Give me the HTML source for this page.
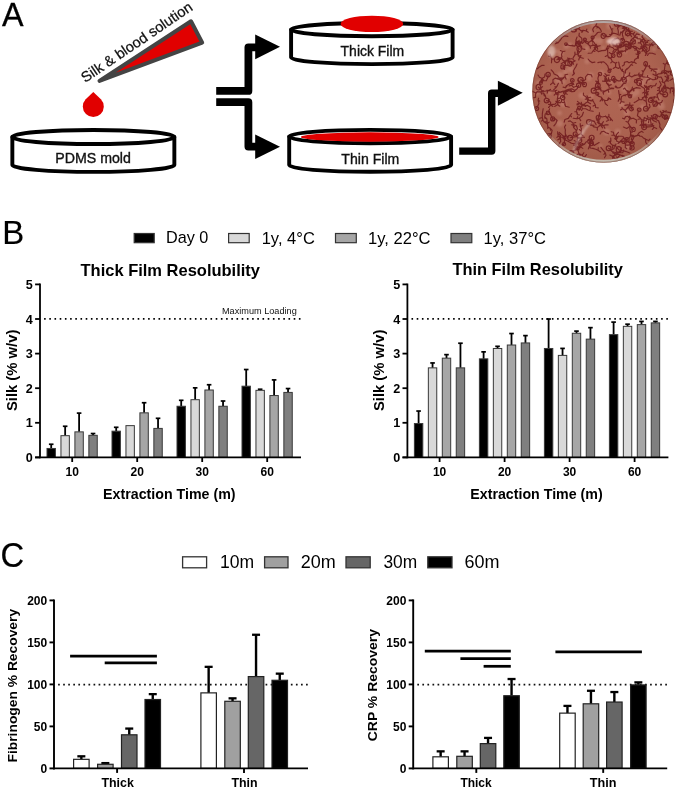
<!DOCTYPE html>
<html><head><meta charset="utf-8"><style>
html,body{margin:0;padding:0;background:#fff;}
svg{display:block;will-change:transform;}
text{font-family:"Liberation Sans", sans-serif;}
</style></head><body>
<svg width="677" height="789" viewBox="0 0 677 789" font-family="Liberation Sans, sans-serif">
<rect width="677" height="789" fill="#fff"/>
<text x="2.00" y="25.85" font-size="33.5" font-weight="normal" fill="#000" stroke="#000" stroke-width="0.3" textLength="21.55" lengthAdjust="spacingAndGlyphs">A</text>
<text x="2.30" y="244.05" font-size="34" font-weight="normal" fill="#000" stroke="#000" stroke-width="0.2" textLength="21.93" lengthAdjust="spacingAndGlyphs">B</text>
<text x="0.55" y="567.00" font-size="35.5" font-weight="normal" fill="#000" stroke="#000" stroke-width="0.2" textLength="23.66" lengthAdjust="spacingAndGlyphs">C</text>
<text x="85.3" y="83" font-size="14.6" fill="#111" stroke="#111" stroke-width="0.25" textLength="131" lengthAdjust="spacingAndGlyphs" transform="rotate(-34.2 85.3 83)">Silk &amp; blood solution</text>
<path d="M99.5,80.9 L191,21.3 L202.2,42.6 Z" fill="#e10000" stroke="#444" stroke-width="4" stroke-linejoin="round"/>
<path d="M93.3,92 L100.9,99.3 A10.5,10.5 0 1 1 85.7,99.3 Z" fill="#e10000"/>
<path d="M12.349999999999994,137.0 L12.349999999999994,164.9 A81.0,7.0 0 0 0 174.35,164.9 L174.35,137.0 Z" fill="#fff" stroke="#000" stroke-width="3.9" stroke-linejoin="round"/>
<ellipse cx="93.35" cy="137.0" rx="81.0" ry="7.0" fill="#fff" stroke="#000" stroke-width="3.9"/>
<text x="55.19" y="163.05" font-size="14" font-weight="normal" fill="#111" stroke="#111" stroke-width="0.35" textLength="75.71" lengthAdjust="spacingAndGlyphs">PDMS mold</text>
<path d="M291.1,29.6 L291.1,57.5 A80.75,6.6 0 0 0 452.6,57.5 L452.6,29.6 Z" fill="#fff" stroke="#000" stroke-width="3.9" stroke-linejoin="round"/>
<ellipse cx="371.85" cy="29.6" rx="80.75" ry="6.6" fill="#fff" stroke="#000" stroke-width="3.9"/>
<ellipse cx="371.9" cy="23.9" rx="31.3" ry="8.2" fill="#e10000"/>
<text x="340.60" y="55.55" font-size="14" font-weight="normal" fill="#111" stroke="#111" stroke-width="0.35" textLength="63.58" lengthAdjust="spacingAndGlyphs">Thick Film</text>
<path d="M289.2,136.6 L289.2,165.1 A80.95,6.7 0 0 0 451.09999999999997,165.1 L451.09999999999997,136.6 Z" fill="#fff" stroke="#000" stroke-width="3.9" stroke-linejoin="round"/>
<ellipse cx="370.15" cy="136.6" rx="80.95" ry="6.7" fill="#fff" stroke="#000" stroke-width="3.9"/>
<ellipse cx="369.7" cy="137.0" rx="68.9" ry="4.65" fill="#e10000"/>
<text x="341.30" y="163.75" font-size="14" font-weight="normal" fill="#111" stroke="#111" stroke-width="0.35" textLength="57.97" lengthAdjust="spacingAndGlyphs">Thin Film</text>
<path d="M216.2,90.9 L248.4,90.9 L248.4,47.3 L258,47.3" fill="none" stroke="#000" stroke-width="7.8" stroke-linejoin="round"/>
<path d="M216.2,102.2 L248.4,102.2 L248.4,146.6 L258,146.6" fill="none" stroke="#000" stroke-width="7.8" stroke-linejoin="round"/>
<path d="M255.2,34.4 L280,46.8 L255.2,59.3 Z" fill="#000"/>
<path d="M255.2,134.6 L280,146.7 L255.2,159 Z" fill="#000"/>
<path d="M459.2,151.1 L491.7,151.1 L491.7,93.2 L500,93.2" fill="none" stroke="#000" stroke-width="7.4" stroke-linejoin="round"/>
<path d="M497.9,80.7 L522.7,92.8 L497.9,105.8 Z" fill="#000"/>
<defs><radialGradient id="pg" cx="48%" cy="45%" r="55%"><stop offset="0" stop-color="#b06654"/><stop offset="0.7" stop-color="#ab6250"/><stop offset="1" stop-color="#a05a48"/></radialGradient><clipPath id="pc"><circle cx="603.5" cy="91.4" r="70.9"/></clipPath><filter id="bl" x="-5%" y="-5%" width="110%" height="110%"><feGaussianBlur stdDeviation="0.45"/></filter><filter id="bl2" x="-20%" y="-20%" width="140%" height="140%"><feGaussianBlur stdDeviation="1"/></filter></defs>
<circle cx="603.5" cy="91.4" r="71.2" fill="url(#pg)"/>
<g clip-path="url(#pc)" filter="url(#bl2)" fill="#c88a7a" opacity="0.5"><circle cx="624.7" cy="89.3" r="3.3"/><circle cx="586.7" cy="48.6" r="2.3"/><circle cx="560.3" cy="53.4" r="3.0"/><circle cx="588.9" cy="78.4" r="2.5"/><circle cx="570.6" cy="69.3" r="3.3"/><circle cx="654.0" cy="49.2" r="1.9"/><circle cx="550.8" cy="53.2" r="2.4"/><circle cx="600.7" cy="145.8" r="1.9"/><circle cx="576.6" cy="86.6" r="2.1"/><circle cx="613.0" cy="38.0" r="3.0"/><circle cx="626.2" cy="79.1" r="3.3"/><circle cx="606.7" cy="131.9" r="3.4"/><circle cx="659.4" cy="97.9" r="1.9"/><circle cx="538.6" cy="82.6" r="2.7"/><circle cx="590.1" cy="32.1" r="2.0"/><circle cx="563.5" cy="81.9" r="2.2"/><circle cx="638.2" cy="37.2" r="3.3"/><circle cx="581.1" cy="132.9" r="3.3"/><circle cx="536.8" cy="92.6" r="2.8"/><circle cx="617.7" cy="131.8" r="3.1"/><circle cx="661.6" cy="106.5" r="3.2"/><circle cx="625.3" cy="51.6" r="1.9"/><circle cx="601.4" cy="72.8" r="2.7"/><circle cx="609.1" cy="92.5" r="2.2"/><circle cx="566.4" cy="46.1" r="2.7"/><circle cx="636.7" cy="92.2" r="3.1"/><circle cx="563.3" cy="104.0" r="3.1"/><circle cx="537.1" cy="83.1" r="1.9"/><circle cx="567.5" cy="77.2" r="1.9"/><circle cx="594.6" cy="40.3" r="2.9"/><circle cx="660.4" cy="104.2" r="3.5"/><circle cx="591.4" cy="96.1" r="2.2"/><circle cx="570.0" cy="44.5" r="2.3"/><circle cx="560.5" cy="97.9" r="3.3"/><circle cx="609.5" cy="26.1" r="3.3"/><circle cx="585.3" cy="98.4" r="2.0"/><circle cx="621.6" cy="104.7" r="2.9"/><circle cx="617.9" cy="142.7" r="2.0"/><circle cx="612.3" cy="80.7" r="3.0"/><circle cx="621.3" cy="31.6" r="2.7"/><circle cx="603.3" cy="47.8" r="1.9"/><circle cx="558.5" cy="80.2" r="3.2"/><circle cx="628.4" cy="40.9" r="1.9"/><circle cx="641.7" cy="82.7" r="3.5"/><circle cx="657.8" cy="70.7" r="2.2"/><circle cx="627.4" cy="147.3" r="2.4"/><circle cx="592.9" cy="25.2" r="2.4"/><circle cx="648.2" cy="78.6" r="3.5"/><circle cx="549.6" cy="93.1" r="1.8"/><circle cx="559.5" cy="113.1" r="2.5"/><circle cx="648.8" cy="120.7" r="3.2"/><circle cx="623.1" cy="81.5" r="2.8"/><circle cx="557.4" cy="51.1" r="1.9"/><circle cx="589.6" cy="145.0" r="1.9"/><circle cx="559.7" cy="123.6" r="3.3"/><circle cx="560.0" cy="75.1" r="3.2"/><circle cx="578.7" cy="129.7" r="1.9"/><circle cx="630.0" cy="96.3" r="2.4"/><circle cx="581.3" cy="95.5" r="2.9"/><circle cx="626.8" cy="112.8" r="3.0"/><circle cx="565.4" cy="71.7" r="2.5"/><circle cx="590.6" cy="75.1" r="2.9"/><circle cx="587.1" cy="61.4" r="2.6"/><circle cx="576.5" cy="152.0" r="2.6"/><circle cx="642.5" cy="106.8" r="2.5"/><circle cx="633.4" cy="94.2" r="3.3"/><circle cx="566.7" cy="63.1" r="2.6"/><circle cx="625.0" cy="75.3" r="2.5"/><circle cx="599.7" cy="41.1" r="3.3"/><circle cx="637.5" cy="39.4" r="3.2"/></g>
<g clip-path="url(#pc)"><g filter="url(#bl)" fill="none" stroke="#6e1a1e" stroke-linejoin="round" stroke-linecap="round" opacity="0.85"><path d="M554.7,106.4 L557.7,104.5 M557.7,104.5 L559.7,106.2 M557.7,104.5 L557.7,101.9 M557.7,101.9 L555.7,101.3 M557.7,101.9 L557.3,98.6 L558.0,95.2 M558.0,95.2 L556.7,93.8 M558.0,95.2 L555.7,93.5 L555.3,90.6 M579.4,52.1 L577.8,54.1 M577.8,54.1 L575.4,54.3 M577.8,54.1 L578.4,56.2 M578.4,56.2 L581.0,55.5 M578.4,56.2 L580.7,56.5 M646.2,86.1 L647.2,88.4 M647.2,88.4 L646.5,90.3 M647.2,88.4 L646.0,90.2 L647.6,92.6 L648.0,94.9 M608.9,47.6 L607.5,49.5 M607.5,49.5 L606.3,48.5 M607.5,49.5 L607.8,53.2 L607.7,55.3 M607.7,55.3 L605.3,56.5 M607.7,55.3 L608.5,57.7 M608.5,57.7 L610.8,58.4 M608.5,57.7 L611.1,57.9 L613.2,55.7 M577.0,64.1 L576.1,66.2 L574.4,69.0 L573.4,70.9 M573.4,70.9 L574.4,73.7 M573.4,70.9 L573.9,74.1 M573.9,74.1 L572.5,75.2 M573.9,74.1 M633.1,105.1 L629.5,105.6 M629.5,105.6 L628.4,107.4 M629.5,105.6 L628.0,107.0 M628.0,107.0 L628.1,108.7 M628.0,107.0 L626.3,109.0 M653.0,74.2 L655.8,75.8 L658.4,73.9 L660.9,73.7 L662.2,71.0 L665.5,70.5 L668.6,72.4 M655.2,54.3 L652.3,53.2 L649.3,53.0 L647.4,55.5 M597.7,49.3 L596.9,45.9 M596.9,45.9 L595.3,45.4 M596.9,45.9 L593.2,45.2 M593.2,45.2 L592.7,43.8 M593.2,45.2 L590.1,46.1 M590.1,46.1 L590.4,48.1 M590.1,46.1 L588.0,44.1 M588.0,44.1 L588.9,42.6 M588.0,44.1 L585.1,42.3 L584.9,39.6 M541.1,92.8 L543.6,93.1 M543.6,93.1 L544.3,95.9 M543.6,93.1 L545.2,95.3 L546.0,98.5 M576.9,147.5 L575.5,149.6 L573.0,151.3 L571.5,153.0 M623.1,26.7 L624.7,29.4 L623.0,32.1 M623.0,32.1 L620.4,32.1 M623.0,32.1 L620.3,33.3 M620.3,33.3 L620.0,35.2 M620.3,33.3 M550.5,84.6 L553.0,82.5 M553.0,82.5 L554.7,84.4 M553.0,82.5 L552.9,79.7 L555.2,78.1 L558.4,79.2 L561.5,79.9 M561.5,79.9 L563.6,78.0 M561.5,79.9 L562.2,83.6 M575.7,150.2 L576.9,148.6 M576.9,148.6 L578.9,149.7 M576.9,148.6 L575.4,145.5 M575.4,145.5 L573.5,145.1 M575.4,145.5 L576.0,143.3 M576.0,143.3 L578.1,143.8 M576.0,143.3 L578.0,142.7 M578.0,142.7 L578.9,144.9 M578.0,142.7 L579.5,140.2 M664.6,73.6 L664.4,69.8 L664.7,67.5 L665.2,64.4 M665.2,64.4 L663.3,63.4 M665.2,64.4 L667.5,62.5 L669.5,62.0 M634.9,75.0 L631.8,76.9 L629.1,75.6 M629.1,75.6 L629.7,72.8 M629.1,75.6 L626.1,77.1 M626.1,77.1 L625.7,78.5 M626.1,77.1 L624.1,79.8 M624.1,79.8 L621.6,79.9 M624.1,79.8 M603.4,121.7 L601.6,124.3 L599.3,126.1 L597.3,127.5 M597.3,127.5 L597.3,130.1 M597.3,127.5 L593.7,126.9 M593.7,126.9 L593.9,125.2 M593.7,126.9 L592.1,125.2 M592.1,125.2 L590.5,125.4 M592.1,125.2 L589.7,123.8 M594.9,62.1 L592.0,62.6 L589.8,61.1 L588.2,59.0 M618.9,46.6 L620.7,45.1 M620.7,45.1 L618.8,43.0 M620.7,45.1 L620.5,43.0 L619.9,39.7 M619.9,39.7 L621.6,38.5 M619.9,39.7 L617.8,38.0 L615.7,39.0 L613.7,40.8 M653.8,125.5 L650.7,126.7 L648.0,126.9 L644.2,127.1 M601.4,31.3 L600.2,29.0 L598.2,27.0 M598.2,27.0 L596.9,27.9 M598.2,27.0 L595.6,25.9 M595.6,25.9 L596.8,23.3 M595.6,25.9 L593.7,27.5 L592.7,29.6 L593.5,31.7 M608.9,114.4 L608.9,116.6 M608.9,116.6 L607.5,117.3 M608.9,116.6 L610.7,118.5 M610.7,118.5 L610.2,120.5 M610.7,118.5 L612.4,120.7 M640.3,118.0 L637.4,115.8 L638.1,112.4 L639.2,109.8 M584.5,137.3 L582.0,137.2 L580.2,138.1 M580.2,138.1 L580.6,140.2 M580.2,138.1 L578.1,138.1 M578.1,138.1 L576.1,135.9 M578.1,138.1 L577.1,136.2 L575.3,134.0 M657.0,69.1 L654.8,69.0 L652.5,69.2 M652.5,69.2 L651.2,70.9 M652.5,69.2 L649.8,68.2 M649.8,68.2 L649.5,65.6 M649.8,68.2 L648.8,66.2 M648.8,66.2 L647.1,66.0 M648.8,66.2 M615.0,38.7 L612.3,40.7 L611.8,43.1 M611.8,43.1 L613.9,44.5 M611.8,43.1 L613.5,45.9 L615.9,45.6 M615.9,45.6 L617.1,43.6 M615.9,45.6 L616.8,43.6 M575.2,60.8 L572.7,62.3 M572.7,62.3 L573.5,64.3 M572.7,62.3 L569.3,61.4 L566.0,61.0 L564.3,62.5 M588.4,148.9 L589.2,146.3 M589.2,146.3 L590.7,145.7 M589.2,146.3 L590.5,143.7 L590.4,140.4 M590.4,140.4 L588.0,140.3 M590.4,140.4 L591.6,137.7 M614.3,145.6 L614.1,148.4 L611.4,150.1 M611.4,150.1 L609.9,149.0 M611.4,150.1 L608.6,148.3 M659.0,99.9 L657.8,97.5 L654.8,96.7 M654.8,96.7 L653.6,99.2 M654.8,96.7 L652.9,97.1 L649.9,97.6 M609.3,75.1 L606.8,75.4 M606.8,75.4 L605.0,73.7 M606.8,75.4 L604.9,78.1 L604.9,80.5 M607.5,48.8 L605.1,50.4 L601.8,50.6 L598.5,51.6 L595.5,49.8 L595.2,46.1 M588.3,32.2 L586.2,31.0 M586.2,31.0 L586.8,29.1 M586.2,31.0 L583.3,30.3 M583.3,30.3 L581.8,32.4 M583.3,30.3 L581.1,30.9 L578.7,28.6 M578.7,28.6 L579.7,27.4 M578.7,28.6 L576.4,29.0 M576.4,29.0 L576.1,31.2 M576.4,29.0 L573.6,29.4 M653.4,70.7 L655.9,72.0 L655.9,75.2 L658.8,77.2 L661.1,77.0 L662.7,80.0 L662.3,82.1 M649.1,45.2 L646.1,44.6 M646.1,44.6 L645.5,46.2 M646.1,44.6 L644.8,41.4 M644.8,41.4 L645.9,40.4 M644.8,41.4 L644.2,39.2 M644.2,39.2 L642.6,39.4 M644.2,39.2 L641.9,36.8 M641.9,36.8 L642.8,35.5 M641.9,36.8 M556.8,78.3 L560.4,78.0 M560.4,78.0 L561.9,79.8 M560.4,78.0 L562.7,78.0 L565.0,76.8 M565.0,76.8 L566.1,79.1 M565.0,76.8 L565.1,74.7 M565.1,74.7 L567.7,74.3 M565.1,74.7 M636.3,122.9 L636.6,119.9 L633.2,118.2 L630.2,118.9 M630.2,118.9 L629.5,116.3 M630.2,118.9 L628.0,116.3 L625.7,116.6 L624.4,118.9 M624.4,118.9 L622.5,118.2 M624.4,118.9 M624.9,105.4 L627.6,104.9 L629.8,105.0 M629.8,105.0 L629.8,102.9 M629.8,105.0 L631.8,106.7 L631.4,109.0 M631.4,109.0 L633.4,109.5 M631.4,109.0 M646.5,95.6 L646.7,92.5 M646.7,92.5 L648.4,91.5 M646.7,92.5 L646.5,89.5 M646.5,89.5 L649.1,88.9 M646.5,89.5 L646.9,87.3 L649.7,86.1 M639.7,136.2 L641.8,136.3 L643.4,137.9 L645.6,139.2 M645.6,139.2 L645.7,142.0 M645.6,139.2 L648.7,140.6 M648.7,140.6 L650.0,139.2 M648.7,140.6 M665.1,88.4 L665.3,86.4 L664.6,83.1 L662.0,81.5 M553.9,125.8 L555.9,123.3 L557.1,120.5 L555.4,118.8 L552.7,118.9 M599.1,142.6 L596.1,144.3 L594.2,145.4 M594.2,145.4 L592.8,143.7 M594.2,145.4 L591.5,143.3 M544.1,65.3 L542.1,65.3 L539.4,66.9 L537.6,68.7 L534.0,68.4 M534.0,68.4 L532.8,65.9 M534.0,68.4 L533.1,65.7 M533.1,65.7 L530.6,65.7 M533.1,65.7 L535.5,63.0 M632.1,61.5 L629.0,62.7 L627.2,61.5 L624.4,62.4 L624.2,64.8 M624.2,64.8 L622.4,66.0 M624.2,64.8 M578.3,86.5 L576.3,86.3 L573.6,87.3 L571.6,85.2 M571.6,85.2 L573.3,83.3 M571.6,85.2 L569.1,85.9 M657.6,96.9 L657.0,94.5 L659.5,92.5 M659.5,92.5 L660.7,94.0 M659.5,92.5 L661.8,89.8 M661.8,89.8 L663.5,90.3 M661.8,89.8 L664.0,89.8 M566.4,91.1 L565.6,93.3 M565.6,93.3 L567.2,94.4 M565.6,93.3 L564.2,95.0 L562.6,97.5 M596.1,124.8 L594.4,121.4 M594.4,121.4 L592.1,121.2 M594.4,121.4 L591.0,120.2 L589.0,122.1 M574.6,91.4 L571.7,91.6 M571.7,91.6 L570.5,89.1 M571.7,91.6 L569.0,90.6 L565.9,92.0 M565.9,92.0 L564.0,90.8 M565.9,92.0 L562.5,91.2 L559.9,92.3 M559.9,92.3 L558.4,91.3 M559.9,92.3 M646.7,106.2 L646.7,104.2 L646.2,101.4 M646.2,101.4 L643.7,99.9 M646.2,101.4 L646.2,98.4 L644.8,96.6 M644.8,96.6 L642.3,97.7 M644.8,96.6 L644.6,93.2 M574.9,52.0 L574.9,55.2 L573.6,56.8 L572.7,59.1 L574.7,61.2 M631.8,127.7 L629.2,126.8 L626.8,128.5 L623.4,127.0 M656.3,83.4 L655.3,85.6 L652.7,86.0 M652.7,86.0 L651.4,87.7 M652.7,86.0 L650.6,85.5 M650.6,85.5 L649.4,87.1 M650.6,85.5 M559.3,132.4 L561.8,134.7 L563.9,136.4 L564.6,139.2 L564.4,141.5 L564.0,144.2 M564.0,144.2 L562.2,144.9 M564.0,144.2 M600.2,134.0 L601.5,131.7 M601.5,131.7 L603.4,131.5 M601.5,131.7 L603.7,131.3 L606.0,132.8 L608.4,133.6 M586.4,141.7 L584.5,144.2 M584.5,144.2 L582.3,143.7 M584.5,144.2 L581.8,145.4 L580.1,147.6 L576.6,147.5 M563.1,87.1 L565.4,87.8 M565.4,87.8 L566.3,85.7 M565.4,87.8 L567.5,85.1 L569.3,84.1 L571.8,83.1 M571.8,83.1 L573.8,84.5 M571.8,83.1 L572.3,80.4 M580.8,133.8 L578.6,134.6 L576.1,136.8 L572.5,137.3 L570.1,137.8 M622.9,77.8 L624.0,75.4 L624.0,72.1 L622.2,71.1 M622.2,71.1 L622.6,69.2 M622.2,71.1 L620.8,69.2 L619.4,65.7 L618.7,62.1 M571.8,61.3 L571.8,64.1 L569.3,65.3 L566.9,65.3 L564.8,65.5 L562.8,66.9 M562.8,66.9 L564.5,69.4 M562.8,66.9 M638.3,42.9 L640.4,42.8 M640.4,42.8 L640.8,40.3 M640.4,42.8 L642.2,45.8 M642.2,45.8 L640.7,46.9 M642.2,45.8 L644.0,47.7 L646.1,50.1 L647.0,53.6 M665.0,87.2 L664.8,84.4 L664.5,82.1 L666.0,80.6 M666.0,80.6 L668.4,81.1 M666.0,80.6 L667.4,77.7 M667.4,77.7 L665.0,76.3 M667.4,77.7 L669.0,75.4 M633.2,38.1 L634.4,40.3 L632.7,42.6 L629.2,43.4 M629.2,43.4 L627.6,41.5 M629.2,43.4 L625.9,45.1 L625.9,48.4 M625.9,48.4 L627.5,49.6 M625.9,48.4 L625.5,51.8 M634.8,36.7 L637.7,38.7 L640.3,38.9 L643.1,41.4 M545.0,74.0 L544.6,77.0 L542.1,78.3 M542.1,78.3 L542.0,80.7 M542.1,78.3 L540.8,80.7 M540.8,80.7 L542.0,82.3 M540.8,80.7 L540.9,82.8 M540.9,82.8 L539.4,83.2 M540.9,82.8 M620.0,25.5 L617.5,27.9 L618.3,30.8 L618.3,33.3 M648.9,89.8 L648.4,87.8 M648.4,87.8 L646.5,87.8 M648.4,87.8 L645.4,87.3 M645.4,87.3 L644.4,85.7 M645.4,87.3 L644.8,85.3 M618.9,35.0 L616.2,33.8 L612.7,33.1 L611.4,35.0 M611.4,35.0 L609.6,34.6 M611.4,35.0 M571.5,58.7 L569.0,59.2 M569.0,59.2 L567.7,58.0 M569.0,59.2 L568.4,61.4 M568.4,61.4 L569.4,62.7 M568.4,61.4 L569.9,63.6 M571.7,113.5 L570.3,115.3 M570.3,115.3 L571.5,116.9 M570.3,115.3 L568.3,118.4 L564.9,119.5 L564.2,122.1 M612.1,42.7 L613.1,44.5 L615.3,46.3 L618.6,48.1 L621.6,46.7 L624.0,45.2 L626.3,43.8 M558.4,83.3 L556.8,86.6 M556.8,86.6 L554.9,86.8 M556.8,86.6 L555.2,88.4 L553.7,89.7 M621.7,77.7 L620.3,80.9 L618.2,80.9 L616.1,79.7 L613.4,78.5 M592.0,76.9 L591.4,74.9 L587.9,74.2 L585.5,77.0 L585.6,79.6 L583.5,80.8 M583.5,80.8 L581.6,80.0 M583.5,80.8 L580.6,79.9 M618.0,143.5 L621.1,141.3 L624.3,141.7 L625.5,144.7 M625.5,144.7 L627.1,145.1 M625.5,144.7 L625.2,147.5 M625.2,147.5 L626.8,148.7 M625.2,147.5 M601.3,97.1 L602.8,99.4 M602.8,99.4 L602.2,100.8 M602.8,99.4 L605.2,100.5 L607.4,100.3 M607.4,100.3 L608.4,97.9 M607.4,100.3 L609.7,98.3 M609.7,98.3 L610.8,99.5 M609.7,98.3 M610.7,138.0 L610.9,140.8 M610.9,140.8 L608.9,142.1 M610.9,140.8 L610.2,143.1 L612.5,145.1 M612.5,145.1 L612.4,148.0 M612.5,145.1 L615.3,145.4 M615.3,145.4 L616.0,143.9 M615.3,145.4 L616.3,147.3 L618.7,149.6 M613.4,88.2 L611.1,88.6 L608.0,89.4 M608.0,89.4 L608.8,92.3 M608.0,89.4 L605.0,91.0 L601.2,91.0 M601.2,91.0 L600.5,88.4 M601.2,91.0 L599.6,88.5 L597.8,85.5 M670.2,92.9 L670.4,89.2 L672.7,87.6 M672.7,87.6 L674.6,89.9 M672.7,87.6 L674.7,88.3 L677.3,89.6 M677.3,89.6 L679.2,88.3 M677.3,89.6 L680.0,88.2 M680.0,88.2 L679.9,86.3 M680.0,88.2 M564.3,66.3 L565.7,64.6 M565.7,64.6 L564.2,62.9 M565.7,64.6 L565.3,61.6 M565.3,61.6 L563.9,61.2 M565.3,61.6 L562.4,59.7 L561.4,57.6 L559.2,57.7 M559.2,57.7 L558.4,59.4 M559.2,57.7 L557.0,59.6 M623.0,156.5 L620.5,155.0 L618.1,154.3 L615.5,155.1 L613.0,156.0 M662.8,110.5 L665.2,111.8 M665.2,111.8 L666.2,110.6 M665.2,111.8 L668.9,112.4 L672.1,113.2 L674.1,114.1 L676.5,114.4 L679.5,116.3 M679.5,116.3 L681.5,115.3 M679.5,116.3 M603.9,75.7 L606.3,78.2 L607.4,80.6 M607.4,80.6 L610.2,81.4 M607.4,80.6 L606.4,83.0 M606.4,83.0 L608.6,84.2 M606.4,83.0 L608.6,85.6 M608.6,85.6 L611.3,84.6 M608.6,85.6 L609.3,87.5 M599.0,89.0 L597.6,86.2 L598.3,84.0 M598.3,84.0 L596.7,82.5 M598.3,84.0 L598.6,81.8 M598.6,81.8 L595.7,81.1 M598.6,81.8 L597.9,78.3 L598.6,75.7 L600.0,74.0 M645.8,142.5 L647.1,144.2 L649.7,146.0 L652.4,147.8 L653.0,149.9 L655.8,151.3 M655.8,151.3 L654.9,153.6 M655.8,151.3 M584.9,49.4 L582.0,48.8 L581.4,46.2 L579.6,44.6 L578.1,42.6 M578.1,42.6 L579.2,40.3 M578.1,42.6 L575.8,40.5 L577.0,37.1 M610.4,150.2 L612.2,151.5 L614.4,152.2 L617.1,152.9 L619.7,152.7 M619.7,152.7 L620.6,151.2 M619.7,152.7 L622.8,152.7 M622.8,152.7 L623.6,150.0 M622.8,152.7 M588.2,53.2 L591.7,53.0 L593.1,50.8 M593.1,50.8 L594.9,51.5 M593.1,50.8 L594.8,49.0 M594.8,49.0 L594.2,47.2 M594.8,49.0 L597.2,46.4 M597.2,46.4 L596.1,44.4 M597.2,46.4 L600.1,45.7 M609.0,57.1 L611.2,59.0 L612.3,61.4 M612.3,61.4 L610.8,62.8 M612.3,61.4 L615.6,63.2 M615.6,63.2 L616.8,62.4 M615.6,63.2 L615.6,66.9 M615.6,66.9 L613.2,68.4 M615.6,66.9 L618.4,68.5 M618.4,68.5 L619.8,67.4 M618.4,68.5 M669.9,80.5 L672.5,78.6 M672.5,78.6 L674.8,80.3 M672.5,78.6 L674.6,79.1 M674.6,79.1 L676.4,77.9 M674.6,79.1 L678.1,80.6 M574.2,140.5 L577.5,142.2 M577.5,142.2 L576.5,145.0 M577.5,142.2 L580.4,144.3 M580.4,144.3 L582.6,143.8 M580.4,144.3 L580.0,146.4 M580.0,146.4 L578.5,146.1 M580.0,146.4 L582.8,148.4 M551.5,62.8 L551.7,59.1 M551.7,59.1 L553.8,59.0 M551.7,59.1 L550.8,56.6 M550.8,56.6 L548.5,56.1 M550.8,56.6 L550.1,54.1 M609.8,155.1 L612.4,156.3 M612.4,156.3 L612.9,158.7 M612.4,156.3 L614.7,158.2 L616.1,159.7 M616.1,159.7 L618.0,159.3 M616.1,159.7 L616.7,162.9 M656.0,119.6 L658.7,120.9 M658.7,120.9 L659.1,122.5 M658.7,120.9 L659.9,124.5 L659.7,126.9 L661.8,129.9 M664.7,119.4 L667.0,117.9 M667.0,117.9 L667.2,116.1 M667.0,117.9 L670.5,119.2 L674.2,119.1 M674.2,119.1 L674.3,120.9 M674.2,119.1 M646.5,52.3 L649.2,50.3 L649.5,46.8 L651.3,44.2 M651.3,44.2 L653.0,44.2 M651.3,44.2 L653.2,41.9 L656.1,41.1 L656.8,38.9 M656.8,38.9 L659.6,39.8 M656.8,38.9 M629.7,153.0 L626.6,151.8 L623.6,150.9 L621.3,150.5 M662.4,100.5 L661.5,102.4 L658.0,103.8 M658.0,103.8 L656.9,101.8 M658.0,103.8 L655.2,103.8 M655.2,103.8 L653.5,106.2 M655.2,103.8 M551.2,69.9 L552.8,71.5 L554.2,73.9 L557.5,75.6 L559.5,78.0 L560.3,80.7 M609.8,25.8 L611.3,29.2 M611.3,29.2 L612.8,28.9 M611.3,29.2 L612.3,31.1 L611.5,34.2 L609.9,36.4 L606.9,36.7 M606.9,36.7 L605.9,34.7 M606.9,36.7 L603.3,35.8 M603.3,35.8 L602.4,34.1 M603.3,35.8 M592.3,99.7 L593.8,102.3 L595.3,104.7 M595.3,104.7 L593.2,106.1 M595.3,104.7 L595.6,107.5 M595.6,107.5 L598.2,107.9 M595.6,107.5 M625.8,34.6 L627.8,36.0 L630.4,34.6 M630.4,34.6 L631.6,36.7 M630.4,34.6 L630.4,31.4 M630.4,31.4 L632.4,31.3 M630.4,31.4 L628.2,29.0 L629.5,26.2 M629.5,26.2 L628.1,24.6 M629.5,26.2 L630.1,22.9 M630.1,22.9 L632.5,23.2 M630.1,22.9 M573.2,118.3 L576.9,118.8 M576.9,118.8 L577.7,116.7 M576.9,118.8 L579.3,118.1 M579.3,118.1 L580.7,120.6 M579.3,118.1 L582.1,115.7 L583.4,112.3 M609.4,52.5 L611.1,53.9 L614.2,52.7 L616.6,49.9 L618.0,47.5 M618.0,47.5 L620.8,47.6 M618.0,47.5 L620.9,47.0 M620.9,47.0 L620.8,44.1 M620.9,47.0 L621.9,44.5 M627.1,30.2 L624.4,29.7 M624.4,29.7 L622.5,31.4 M624.4,29.7 L622.9,31.4 L622.4,34.6 L623.3,37.9 L622.6,40.6 M665.2,73.3 L667.1,71.2 L670.9,71.4 L672.7,73.0 M586.6,102.3 L584.4,104.1 M584.4,104.1 L585.6,106.4 M584.4,104.1 L582.2,104.9 M582.2,104.9 L581.2,102.3 M582.2,104.9 L579.6,103.1 M579.6,103.1 L577.0,104.0 M579.6,103.1 L577.5,101.4 M600.7,152.0 L598.0,150.2 M598.0,150.2 L598.3,147.8 M598.0,150.2 L595.7,149.2 L593.0,148.4 L590.3,148.0 L589.5,144.6 L590.0,141.4 M590.0,141.4 L592.4,140.7 M590.0,141.4 M538.0,75.0 L539.5,77.3 L542.4,78.5 M542.4,78.5 L542.7,81.4 M542.4,78.5 L543.9,80.8 L546.3,80.7 L547.9,77.3 L548.1,74.6 M580.9,106.2 L582.7,108.5 M582.7,108.5 L581.5,110.4 M582.7,108.5 L585.8,108.8 L588.0,110.0 L590.2,110.7 L593.1,111.3 M642.3,79.7 L639.6,78.4 M639.6,78.4 L640.3,76.5 M639.6,78.4 L637.0,78.7 L636.1,81.2 M649.4,44.1 L652.7,45.6 L654.5,44.1 M654.5,44.1 L653.8,42.8 M654.5,44.1 L658.0,44.3 M658.0,44.3 L658.3,46.3 M658.0,44.3 L659.4,46.3 M623.1,43.8 L620.7,43.8 L618.2,46.5 M618.2,46.5 L616.8,45.3 M618.2,46.5 L618.2,49.5 L618.4,52.6 M618.4,52.6 L616.6,52.9 M618.4,52.6 L619.4,54.8 M661.3,115.4 L659.7,116.7 L656.9,115.4 L655.1,116.6 M655.1,116.6 L655.5,118.1 M655.1,116.6 M660.3,111.3 L661.7,113.6 M661.7,113.6 L660.9,115.0 M661.7,113.6 L663.7,115.4 M663.7,115.4 L666.5,115.0 M663.7,115.4 L666.1,117.2 M666.1,117.2 L665.1,119.2 M666.1,117.2 M556.8,90.2 L554.4,91.0 L552.4,91.0 L549.7,90.8 L546.9,90.2 M644.2,117.4 L646.4,118.4 L649.0,119.8 M649.0,119.8 L648.5,122.7 M649.0,119.8 L652.3,117.9 M652.3,117.9 L651.3,115.5 M652.3,117.9 L655.1,118.2 M561.2,64.0 L563.8,61.9 M563.8,61.9 L565.9,62.5 M563.8,61.9 L566.0,60.4 L567.9,59.9 M567.9,59.9 L568.0,58.0 M567.9,59.9 L569.7,58.4 M632.4,87.1 L632.0,89.1 M632.0,89.1 L634.2,90.0 M632.0,89.1 L629.4,91.6 L626.2,90.3 L624.7,88.1 M624.7,88.1 L623.4,89.0 M624.7,88.1 M557.6,133.0 L558.2,136.1 M558.2,136.1 L556.9,137.3 M558.2,136.1 L560.5,137.0 L564.2,137.3 L566.3,135.1 M638.9,76.1 L641.6,76.2 L642.6,74.4 L643.1,71.8 M643.1,71.8 L642.1,70.7 M643.1,71.8 L644.9,69.2 L646.2,66.6 M646.2,66.6 L645.3,64.8 M646.2,66.6 L645.6,63.9 M632.1,62.9 L634.0,62.1 M634.0,62.1 L636.2,63.4 M634.0,62.1 L634.8,59.6 L637.5,58.1 M637.5,58.1 L637.6,56.4 M637.5,58.1 L638.5,55.1 M638.5,55.1 L636.0,53.9 M638.5,55.1 L638.8,52.4 M579.6,154.8 L580.5,157.4 L579.3,159.6 M579.3,159.6 L580.5,162.1 M579.3,159.6 L575.7,160.2 M575.7,160.2 L574.9,162.0 M575.7,160.2 L573.0,162.9 M573.0,162.9 L574.3,165.3 M573.0,162.9 L572.0,165.1 M582.4,43.4 L584.7,40.8 L586.9,41.4 L588.9,42.4 L591.5,40.5 M591.5,40.5 L592.7,42.2 M591.5,40.5 L592.7,37.6 M550.5,89.4 L547.8,90.7 M547.8,90.7 L547.2,93.1 M547.8,90.7 L544.7,91.2 L542.6,91.4 L540.4,88.8 M540.4,88.8 L542.5,86.7 M540.4,88.8 L538.4,87.2 M548.6,104.4 L551.6,104.6 L555.1,104.1 L557.2,101.7 L559.5,100.4 M602.2,125.9 L600.7,124.4 L599.0,122.9 L599.0,120.6 M599.0,120.6 L596.4,119.9 M599.0,120.6 L598.2,118.6 L598.8,115.0 M640.1,48.9 L642.5,48.1 L644.1,45.8 L645.9,42.7 M645.9,42.7 L647.6,42.4 M645.9,42.7 L648.3,40.4 L650.8,40.3 M617.8,51.0 L620.5,52.6 L622.5,51.6 L626.0,50.2 L628.6,48.7 M628.6,48.7 L627.8,46.7 M628.6,48.7 L630.0,46.4 L629.7,44.4 M620.5,110.0 L622.4,108.8 M622.4,108.8 L622.0,107.3 M622.4,108.8 L624.7,110.1 M624.7,110.1 L626.1,109.6 M624.7,110.1 L626.5,112.3 M607.4,105.4 L605.4,103.8 L604.4,100.3 L601.8,99.0 M601.8,99.0 L600.1,101.2 M601.8,99.0 L601.0,97.0 L598.2,96.1 L597.3,93.8 M601.2,32.0 L597.5,32.5 M597.5,32.5 L596.7,33.9 M597.5,32.5 L595.4,35.3 L593.2,36.8 L592.5,40.5 L594.5,43.0 L595.9,46.1 M646.2,83.2 L647.4,80.0 M647.4,80.0 L649.4,79.7 M647.4,80.0 L650.6,78.7 L653.0,79.8 L655.5,79.4 M655.5,79.4 L655.3,77.4 M655.5,79.4 L657.5,78.4 M657.5,78.4 L657.2,75.7 M657.5,78.4 M618.2,101.3 L619.6,97.9 L619.4,95.1 M619.4,95.1 L620.8,94.4 M619.4,95.1 L618.9,93.0 L618.6,90.6 M583.0,135.9 L581.1,134.1 L581.3,131.1 M581.3,131.1 L579.3,129.5 M581.3,131.1 L581.4,128.8 L580.4,126.4 M580.4,126.4 L582.8,125.3 M580.4,126.4 L580.2,123.6 M630.6,133.0 L630.5,135.2 M630.5,135.2 L633.2,135.4 M630.5,135.2 L632.3,136.7 M632.3,136.7 L631.3,138.9 M632.3,136.7 L634.8,136.0 L637.3,135.3 L638.8,133.1 L641.7,131.3 M641.7,131.3 L643.1,132.4 M641.7,131.3 M600.9,147.4 L602.8,149.8 L605.2,152.6 M605.2,152.6 L603.9,154.5 M605.2,152.6 L606.0,155.3 L604.5,157.7 M573.9,124.8 L576.5,125.9 M576.5,125.9 L577.0,127.8 M576.5,125.9 L577.4,128.8 M577.4,128.8 L576.1,131.1 M577.4,128.8 L576.3,131.4 M659.6,81.3 L661.2,84.6 L659.6,87.4 M659.6,87.4 L657.7,87.9 M659.6,87.4 L659.2,90.0 M659.2,90.0 L657.5,90.5 M659.2,90.0 L659.7,92.7 L662.6,94.7 L665.2,94.4 M649.4,104.4 L650.1,106.8 L648.1,109.1 L645.9,108.7 M630.7,117.3 L628.9,120.5 L627.9,122.3 M627.9,122.3 L626.0,121.5 M627.9,122.3 L629.6,125.4 L631.3,127.5 L633.5,129.4 M586.4,154.7 L584.5,157.3 M584.5,157.3 L583.0,156.5 M584.5,157.3 L582.8,158.5 L582.5,160.9 L581.4,164.0 M581.4,164.0 L583.0,165.6 M581.4,164.0 L582.9,165.5 M563.5,93.1 L565.8,90.4 L568.9,89.4 L571.8,88.7 L574.9,90.5 M574.9,90.5 L576.1,89.3 M574.9,90.5 L577.3,88.6 L578.6,85.2 M622.5,50.8 L619.1,51.4 M619.1,51.4 L618.5,53.5 M619.1,51.4 L617.1,49.1 L614.4,49.5 M614.4,49.5 L612.9,51.9 M614.4,49.5 L613.0,47.8 L610.0,46.7 M610.0,46.7 L609.7,44.4 M610.0,46.7 L607.9,45.8 M607.9,45.8 L606.7,48.4 M607.9,45.8 M608.1,124.8 L605.4,124.8 L603.6,125.7 M603.6,125.7 L604.9,128.3 M603.6,125.7 L601.0,123.8 M601.0,123.8 L599.1,125.9 M601.0,123.8 L598.8,123.7 L597.6,120.7 L598.3,117.4 M583.2,58.3 L579.6,57.2 M579.6,57.2 L578.7,60.0 M579.6,57.2 L578.0,54.1 L577.4,52.0 L579.1,49.0 M579.1,49.0 L577.4,47.0 M579.1,49.0 M579.3,33.2 L578.9,35.8 L581.7,38.1 L582.1,40.9 M582.1,40.9 L579.9,42.4 M582.1,40.9 L581.4,43.0 L577.9,43.8 M577.9,43.8 L577.2,41.5 M577.9,43.8 M575.9,41.2 L576.5,43.7 M576.5,43.7 L579.3,44.6 M576.5,43.7 L574.7,46.2 M574.7,46.2 L572.2,45.2 M574.7,46.2 L571.3,45.6 L569.3,45.5 L566.0,44.1 M629.7,44.3 L632.1,46.6 L635.0,48.8 L637.2,47.6 L639.4,49.2 M639.4,49.2 L641.5,47.8 M639.4,49.2 M644.3,117.9 L643.3,121.5 M643.3,121.5 L641.8,122.0 M643.3,121.5 L644.0,125.1 M644.0,125.1 L641.6,125.7 M644.0,125.1 L643.2,127.6 M660.9,73.6 L664.0,72.4 M664.0,72.4 L664.3,70.8 M664.0,72.4 L666.7,73.6 L667.4,75.7 L668.6,78.1 M668.6,78.1 L667.7,80.1 M668.6,78.1 M602.5,81.1 L605.6,81.5 M605.6,81.5 L606.1,78.7 M605.6,81.5 L608.7,80.0 M608.7,80.0 L608.5,77.7 M608.7,80.0 L611.1,79.9 L614.5,80.6 M614.5,80.6 L614.3,82.8 M614.5,80.6 M600.9,87.8 L599.0,89.2 L595.5,89.5 M595.5,89.5 L595.1,87.0 M595.5,89.5 L593.7,90.7 M620.1,103.5 L621.2,101.5 M621.2,101.5 L624.1,102.1 M621.2,101.5 L621.1,99.1 M621.1,99.1 L619.4,98.9 M621.1,99.1 L621.6,96.4 L623.9,95.2 M623.9,95.2 L625.3,95.8 M623.9,95.2 L627.4,94.4 M627.4,94.4 L628.3,92.0 M627.4,94.4 L630.1,96.2 M630.1,96.2 L632.0,94.9 M630.1,96.2 M541.8,94.2 L540.8,91.9 M540.8,91.9 L543.3,90.6 M540.8,91.9 L537.1,91.6 M537.1,91.6 L535.5,93.3 M537.1,91.6 L535.6,94.0 L535.5,97.5 M535.5,97.5 L533.7,97.6 M535.5,97.5 M579.7,115.0 L577.3,114.6 M577.3,114.6 L577.4,112.8 M577.3,114.6 L576.6,111.8 M576.6,111.8 L575.0,111.7 M576.6,111.8 L576.8,109.0 L579.1,108.1 M579.1,108.1 L579.7,109.8 M579.1,108.1 M656.4,122.0 L653.1,120.4 M653.1,120.4 L652.6,118.0 M653.1,120.4 L650.7,117.9 L648.2,118.0 M648.2,118.0 L647.2,115.8 M648.2,118.0 L645.9,120.8 L643.5,120.7 L640.6,118.7 M640.6,118.7 L638.1,119.3 M640.6,118.7 M640.1,88.3 L636.5,87.6 L633.6,88.7 M633.6,88.7 L633.7,91.0 M633.6,88.7 L630.7,91.1 L628.9,92.7 M628.9,92.7 L627.0,91.8 M628.9,92.7 L629.7,96.0 M587.0,95.8 L587.9,97.8 M587.9,97.8 L590.7,97.3 M587.9,97.8 L588.6,100.0 M588.6,100.0 L590.5,100.8 M588.6,100.0 L591.9,100.9 M591.9,100.9 L593.0,99.8 M591.9,100.9 M548.1,127.0 L550.4,128.5 M550.4,128.5 L550.5,130.1 M550.4,128.5 L552.1,130.3 L551.4,133.5 M551.4,133.5 L549.7,134.2 M551.4,133.5 L549.0,136.0 M549.0,136.0 L546.7,135.6 M549.0,136.0 M660.3,105.0 L659.3,103.1 L656.0,102.3 M656.0,102.3 L656.3,100.8 M656.0,102.3 L653.2,100.6 M653.2,100.6 L651.5,102.3 M653.2,100.6 L650.5,100.3 M641.5,47.7 L643.1,49.3 M643.1,49.3 L642.0,51.5 M643.1,49.3 L645.0,51.9 L646.2,54.0 M646.2,54.0 L645.4,55.4 M646.2,54.0 M646.1,97.1 L647.2,93.9 M647.2,93.9 L644.9,92.4 M647.2,93.9 L644.8,91.7 M644.8,91.7 L642.7,93.0 M644.8,91.7 L644.4,88.4 L641.9,86.8 L639.9,85.3 M639.9,85.3 L640.7,83.1 M639.9,85.3 L639.2,82.9 M597.9,62.6 L600.4,62.0 M600.4,62.0 L601.6,62.9 M600.4,62.0 L603.7,61.9 L605.9,63.6 L607.8,66.0 L608.6,68.9 M608.6,68.9 L611.5,69.4 M608.6,68.9 L609.3,71.1 M625.5,72.9 L625.3,70.5 M625.3,70.5 L627.2,68.3 M625.3,70.5 L627.5,68.8 L629.1,67.2 L631.3,64.4 M631.3,64.4 L632.6,65.2 M631.3,64.4 M577.1,104.9 L579.8,103.6 L581.8,104.9 M581.8,104.9 L582.0,106.7 M581.8,104.9 L584.4,105.9 L587.5,105.4 L590.4,107.3 M590.4,107.3 L590.2,109.4 M590.4,107.3 M535.6,92.8 L532.0,91.3 L529.8,90.8 L527.4,90.7 M527.4,90.7 L525.4,92.9 M527.4,90.7 L526.5,92.6 L526.6,94.6 M526.6,94.6 L525.1,96.2 M526.6,94.6 M577.3,141.4 L574.4,143.8 L571.4,143.3 L569.4,142.0 L567.4,141.0 L565.3,139.9 L564.4,137.6 M622.1,136.2 L618.4,136.2 M618.4,136.2 L616.9,138.8 M618.4,136.2 L615.5,136.5 M615.5,136.5 L615.3,139.4 M615.5,136.5 L613.9,135.0 M613.9,135.0 L612.0,135.3 M613.9,135.0 L613.4,132.2 M613.4,132.2 L611.2,131.7 M613.4,132.2 M635.3,40.0 L633.7,41.4 M633.7,41.4 L630.9,40.5 M633.7,41.4 L631.5,44.1 L629.6,46.9 M567.9,36.4 L564.5,35.9 L562.2,37.3 L560.3,40.2 L557.9,42.8 M557.9,42.8 L555.9,41.9 M557.9,42.8 L555.3,43.8 M641.3,120.7 L641.8,123.8 M641.8,123.8 L640.1,125.5 M641.8,123.8 L643.9,124.9 M643.9,124.9 L646.0,124.0 M643.9,124.9 L647.2,125.0 L649.5,125.1 L652.3,124.9 M652.3,124.9 L652.8,123.5 M652.3,124.9 M623.0,136.7 L625.1,139.3 L627.6,141.3 L629.8,143.0 L632.1,143.8 M632.1,143.8 L633.0,142.5 M632.1,143.8 M629.8,128.0 L630.3,131.6 M630.3,131.6 L632.1,132.3 M630.3,131.6 L631.0,134.3 L629.9,137.4 L626.9,139.8 M579.2,148.6 L577.9,150.1 M577.9,150.1 L575.4,149.1 M577.9,150.1 L579.0,153.7 M579.0,153.7 L576.7,154.7 M579.0,153.7 L582.3,155.3 M582.3,155.3 L583.7,152.8 M582.3,155.3 L583.5,157.4 M583.5,157.4 L581.3,159.4 M583.5,157.4 L585.4,160.2 L586.6,163.1 M590.5,103.7 L587.6,102.1 M587.6,102.1 L588.0,100.6 M587.6,102.1 L587.5,99.2 M587.5,99.2 L585.2,99.1 M587.5,99.2 L585.9,96.9 L583.5,95.1 M583.5,95.1 L583.5,93.0 M583.5,95.1 M548.6,107.5 L550.7,105.1 M550.7,105.1 L552.9,106.4 M550.7,105.1 L550.6,102.3 L548.8,101.1 M548.8,101.1 L549.0,99.2 M548.8,101.1 L546.5,100.6 M568.6,137.1 L565.6,135.7 L565.2,132.0 L565.4,129.9 L564.5,127.0 M564.5,127.0 L565.6,125.1 M564.5,127.0 M633.1,46.0 L636.1,46.9 L636.6,49.6 M636.6,49.6 L634.7,50.2 M636.6,49.6 L637.8,51.4 L638.6,54.9 L638.3,58.3 M633.8,47.0 L631.6,46.2 M631.6,46.2 L629.8,48.0 M631.6,46.2 L629.5,43.3 L630.6,40.6 L632.2,39.0 L634.6,36.9 M634.6,36.9 L637.4,37.1 M634.6,36.9 L636.5,33.9 M636.5,33.9 L639.3,34.6 M636.5,33.9 M543.2,108.7 L542.6,112.0 L542.3,114.3 L542.3,117.5 M542.3,117.5 L539.7,118.3 M542.3,117.5 L542.9,120.0 M542.9,120.0 L541.4,121.1 M542.9,120.0 L543.9,121.7 M543.9,121.7 L546.6,121.5 M543.9,121.7 L547.1,123.8 M547.1,123.8 L549.2,122.1 M547.1,123.8 M656.6,128.6 L654.0,127.3 M654.0,127.3 L652.4,129.4 M654.0,127.3 L651.3,124.7 L650.8,122.2 L650.4,118.9 M549.6,108.8 L548.6,111.6 L550.5,114.1 L551.6,116.8 L552.9,118.7 M552.9,118.7 L552.0,120.0 M552.9,118.7 M630.2,43.3 L632.9,44.3 L635.2,43.3 M635.2,43.3 L635.4,40.4 M635.2,43.3 L635.4,40.9 M626.7,80.1 L625.8,83.2 L623.3,83.6 M623.3,83.6 L622.0,85.9 M623.3,83.6 L621.3,86.4 L619.6,87.7 L617.4,87.9 M617.4,87.9 L615.7,86.0 M617.4,87.9 L615.1,86.9 M557.6,131.8 L558.3,134.1 M558.3,134.1 L560.3,133.8 M558.3,134.1 L560.6,135.7 M560.6,135.7 L559.1,138.2 M560.6,135.7 L560.5,138.7 M560.5,138.7 L557.7,139.7 M560.5,138.7 L560.7,141.5 L558.9,144.0 L558.6,147.6 M560.3,59.5 L561.9,56.7 L561.5,54.3 L562.7,51.5 M562.7,51.5 L560.4,50.5 M562.7,51.5 L564.9,51.2 M613.7,88.6 L611.1,88.1 L608.3,89.7 L604.9,91.2 L603.0,92.4 M603.0,92.4 L603.5,94.2 M603.0,92.4 M671.0,87.5 L673.7,89.5 M673.7,89.5 L672.6,91.5 M673.7,89.5 L673.5,93.3 L674.2,95.6 L676.3,96.5 M676.3,96.5 L675.8,98.8 M676.3,96.5 L677.3,99.2 L675.5,100.9 M569.2,107.2 L565.6,106.3 M565.6,106.3 L564.7,104.5 M565.6,106.3 L564.7,102.6 M564.7,102.6 L562.1,102.5 M564.7,102.6 L563.9,100.4 L564.8,97.9 M564.8,97.9 L562.8,96.2 M564.8,97.9 M577.7,80.0 L579.9,81.6 L581.5,83.8 M581.5,83.8 L584.4,83.9 M581.5,83.8 L584.5,84.5 M639.6,135.3 L637.5,135.4 L634.1,136.8 L632.9,139.4 M632.9,139.4 L631.2,139.8 M632.9,139.4 L631.5,142.0 M631.5,142.0 L628.7,142.0 M631.5,142.0 L630.2,144.8 M630.2,144.8 L627.8,145.1 M630.2,144.8 L632.1,147.9 M632.1,147.9 L630.0,149.2 M632.1,147.9 M538.6,98.2 L538.1,100.2 M538.1,100.2 L539.6,101.1 M538.1,100.2 L539.0,103.3 L537.7,106.3 L536.6,108.5 M602.6,127.8 L601.1,126.0 L600.4,124.1 L598.7,122.2 M598.7,122.2 L597.3,122.7 M598.7,122.2 L597.6,119.9 M624.6,156.2 L622.1,155.2 L619.8,155.1 L617.8,157.7 M617.8,157.7 L616.4,156.9 M617.8,157.7 L616.3,159.4 L615.1,161.0 M628.2,30.6 L626.4,28.8 M626.4,28.8 L626.8,26.8 M626.4,28.8 L624.6,27.0 M624.6,27.0 L625.6,24.6 M624.6,27.0 L621.2,25.5 L618.2,25.6 L616.6,23.9 M634.5,75.6 L638.2,74.8 M638.2,74.8 L639.2,73.0 M638.2,74.8 L641.6,74.9 L642.9,76.8 M642.9,76.8 L644.5,77.0 M642.9,76.8 L644.9,77.0 L647.5,77.2 M647.5,77.2 L647.6,75.6 M647.5,77.2 L650.5,78.5 M599.4,112.7 L599.6,115.8 L602.0,117.0 L605.5,116.2 M605.5,116.2 L607.0,117.9 M605.5,116.2 L607.2,117.2 L608.5,120.3 M608.5,120.3 L606.5,121.2 M608.5,120.3 M622.3,28.1 L624.3,28.7 M624.3,28.7 L624.3,30.2 M624.3,28.7 L627.1,27.3 L627.4,25.2 M627.4,25.2 L629.7,25.5 M627.4,25.2 L628.1,23.3 M628.1,23.3 L626.1,21.6 M628.1,23.3 M641.3,41.5 L643.6,42.3 L643.9,44.3 L643.3,47.0 L644.9,48.8 M671.4,87.7 L669.5,88.8 M669.5,88.8 L667.8,87.4 M669.5,88.8 L666.9,87.9 L664.6,87.2 M575.8,129.8 L573.7,127.6 M573.7,127.6 L574.5,125.9 M573.7,127.6 L573.2,125.3 M573.2,125.3 L571.5,124.8 M573.2,125.3 L573.1,123.2 M573.1,123.2 L575.7,122.5 M573.1,123.2 L570.3,120.9 M570.3,120.9 L568.4,121.3 M570.3,120.9 M634.9,37.6 L633.5,34.1 M633.5,34.1 L634.4,32.3 M633.5,34.1 L630.1,33.1 M630.1,33.1 L629.1,30.9 M630.1,33.1 L627.6,33.3 M627.6,33.3 L626.6,34.7 M627.6,33.3 M664.5,118.8 L662.3,117.3 M662.3,117.3 L663.7,114.7 M662.3,117.3 L661.7,114.9 L661.8,112.9 M661.8,112.9 L663.3,112.6 M661.8,112.9 L664.0,111.7 M554.2,95.1 L556.7,92.6 M556.7,92.6 L558.8,94.1 M556.7,92.6 L559.8,92.4 L563.2,91.5 M563.2,91.5 L564.3,94.1 M563.2,91.5 M547.8,128.4 L547.7,125.8 L547.2,122.3 L546.8,118.8 M546.8,118.8 L544.6,117.9 M546.8,118.8 L544.7,116.9 L545.2,114.0 L548.0,112.9 M612.6,152.8 L614.8,153.8 M614.8,153.8 L614.1,156.3 M614.8,153.8 L617.6,153.8 L619.5,151.1 L621.4,147.9 M618.4,132.3 L616.4,134.6 L616.2,138.3 M616.2,138.3 L614.6,138.5 M616.2,138.3 L616.7,141.1 M616.7,141.1 L618.4,141.7 M616.7,141.1 L619.4,142.3 M619.4,142.3 L620.7,140.6 M619.4,142.3 L621.3,141.4 L624.2,141.0 M634.3,102.6 L636.2,101.5 L639.2,99.6 M639.2,99.6 L638.5,97.7 M639.2,99.6 L641.9,99.7 L643.4,97.6 L645.6,95.8 M645.6,95.8 L647.2,97.5 M645.6,95.8" stroke-width="1.15"/><path d="M615.0,55.7 a1.8,1.8 0 1 0 -3.6,0 a1.8,1.8 0 1 0 3.6,0 M586.4,39.6 a1.5,1.5 0 1 0 -3.0,0 a1.5,1.5 0 1 0 3.0,0 M573.8,153.0 a2.3,2.3 0 1 0 -4.6,0 a2.3,2.3 0 1 0 4.6,0 M581.6,140.2 a2.2,2.2 0 1 0 -4.3,0 a2.2,2.2 0 1 0 4.3,0 M672.1,62.0 a2.5,2.5 0 1 0 -5.1,0 a2.5,2.5 0 1 0 5.1,0 M626.1,79.8 a2.0,2.0 0 1 0 -3.9,0 a2.0,2.0 0 1 0 3.9,0 M646.7,127.1 a2.5,2.5 0 1 0 -5.0,0 a2.5,2.5 0 1 0 5.0,0 M641.0,109.8 a1.8,1.8 0 1 0 -3.6,0 a1.8,1.8 0 1 0 3.6,0 M577.2,134.0 a2.0,2.0 0 1 0 -4.0,0 a2.0,2.0 0 1 0 4.0,0 M594.1,137.7 a2.4,2.4 0 1 0 -4.9,0 a2.4,2.4 0 1 0 4.9,0 M611.0,148.3 a2.4,2.4 0 1 0 -4.8,0 a2.4,2.4 0 1 0 4.8,0 M576.1,29.4 a2.5,2.5 0 1 0 -5.0,0 a2.5,2.5 0 1 0 5.0,0 M633.3,109.0 a1.8,1.8 0 1 0 -3.7,0 a1.8,1.8 0 1 0 3.7,0 M554.7,118.9 a2.0,2.0 0 1 0 -4.0,0 a2.0,2.0 0 1 0 4.0,0 M593.3,143.3 a1.9,1.9 0 1 0 -3.7,0 a1.9,1.9 0 1 0 3.7,0 M666.2,89.8 a2.2,2.2 0 1 0 -4.5,0 a2.2,2.2 0 1 0 4.5,0 M564.7,97.5 a2.1,2.1 0 1 0 -4.2,0 a2.1,2.1 0 1 0 4.2,0 M591.5,122.1 a2.5,2.5 0 1 0 -5.0,0 a2.5,2.5 0 1 0 5.0,0 M565.6,144.2 a1.5,1.5 0 1 0 -3.1,0 a1.5,1.5 0 1 0 3.1,0 M578.0,147.5 a1.5,1.5 0 1 0 -3.0,0 a1.5,1.5 0 1 0 3.0,0 M574.1,80.4 a1.8,1.8 0 1 0 -3.6,0 a1.8,1.8 0 1 0 3.6,0 M572.6,137.8 a2.5,2.5 0 1 0 -5.0,0 a2.5,2.5 0 1 0 5.0,0 M564.8,66.9 a2.0,2.0 0 1 0 -4.0,0 a2.0,2.0 0 1 0 4.0,0 M542.4,82.8 a1.5,1.5 0 1 0 -3.0,0 a1.5,1.5 0 1 0 3.0,0 M571.8,63.6 a2.0,2.0 0 1 0 -3.9,0 a2.0,2.0 0 1 0 3.9,0 M628.8,43.8 a2.5,2.5 0 1 0 -5.0,0 a2.5,2.5 0 1 0 5.0,0 M615.0,78.5 a1.7,1.7 0 1 0 -3.3,0 a1.7,1.7 0 1 0 3.3,0 M583.2,79.9 a2.6,2.6 0 1 0 -5.2,0 a2.6,2.6 0 1 0 5.2,0 M621.2,149.6 a2.5,2.5 0 1 0 -4.9,0 a2.5,2.5 0 1 0 4.9,0 M600.2,85.5 a2.3,2.3 0 1 0 -4.7,0 a2.3,2.3 0 1 0 4.7,0 M681.7,88.2 a1.6,1.6 0 1 0 -3.2,0 a1.6,1.6 0 1 0 3.2,0 M559.4,59.6 a2.5,2.5 0 1 0 -4.9,0 a2.5,2.5 0 1 0 4.9,0 M601.7,74.0 a1.7,1.7 0 1 0 -3.4,0 a1.7,1.7 0 1 0 3.4,0 M658.1,151.3 a2.3,2.3 0 1 0 -4.7,0 a2.3,2.3 0 1 0 4.7,0 M679.8,80.6 a1.7,1.7 0 1 0 -3.4,0 a1.7,1.7 0 1 0 3.4,0 M676.4,119.1 a2.2,2.2 0 1 0 -4.4,0 a2.2,2.2 0 1 0 4.4,0 M657.6,103.8 a2.4,2.4 0 1 0 -4.8,0 a2.4,2.4 0 1 0 4.8,0 M605.3,35.8 a2.1,2.1 0 1 0 -4.1,0 a2.1,2.1 0 1 0 4.1,0 M624.1,44.5 a2.1,2.1 0 1 0 -4.2,0 a2.1,2.1 0 1 0 4.2,0 M624.5,40.6 a1.9,1.9 0 1 0 -3.8,0 a1.9,1.9 0 1 0 3.8,0 M675.1,73.0 a2.4,2.4 0 1 0 -4.8,0 a2.4,2.4 0 1 0 4.8,0 M592.3,141.4 a2.3,2.3 0 1 0 -4.6,0 a2.3,2.3 0 1 0 4.6,0 M550.3,74.6 a2.2,2.2 0 1 0 -4.4,0 a2.2,2.2 0 1 0 4.4,0 M637.8,81.2 a1.7,1.7 0 1 0 -3.4,0 a1.7,1.7 0 1 0 3.4,0 M661.3,46.3 a1.9,1.9 0 1 0 -3.7,0 a1.9,1.9 0 1 0 3.7,0 M621.6,54.8 a2.2,2.2 0 1 0 -4.4,0 a2.2,2.2 0 1 0 4.4,0 M657.3,116.6 a2.2,2.2 0 1 0 -4.4,0 a2.2,2.2 0 1 0 4.4,0 M667.9,117.2 a1.8,1.8 0 1 0 -3.6,0 a1.8,1.8 0 1 0 3.6,0 M647.4,63.9 a1.8,1.8 0 1 0 -3.5,0 a1.8,1.8 0 1 0 3.5,0 M640.1,52.4 a1.3,1.3 0 1 0 -2.6,0 a1.3,1.3 0 1 0 2.6,0 M573.8,165.1 a1.8,1.8 0 1 0 -3.7,0 a1.8,1.8 0 1 0 3.7,0 M594.2,37.6 a1.5,1.5 0 1 0 -3.1,0 a1.5,1.5 0 1 0 3.1,0 M540.7,87.2 a2.3,2.3 0 1 0 -4.5,0 a2.3,2.3 0 1 0 4.5,0 M561.7,100.4 a2.2,2.2 0 1 0 -4.4,0 a2.2,2.2 0 1 0 4.4,0 M598.8,93.8 a1.5,1.5 0 1 0 -3.0,0 a1.5,1.5 0 1 0 3.0,0 M667.6,94.4 a2.4,2.4 0 1 0 -4.8,0 a2.4,2.4 0 1 0 4.8,0 M648.2,108.7 a2.3,2.3 0 1 0 -4.7,0 a2.3,2.3 0 1 0 4.7,0 M635.2,129.4 a1.7,1.7 0 1 0 -3.3,0 a1.7,1.7 0 1 0 3.3,0 M580.7,85.2 a2.1,2.1 0 1 0 -4.2,0 a2.1,2.1 0 1 0 4.2,0 M600.2,117.4 a2.0,2.0 0 1 0 -4.0,0 a2.0,2.0 0 1 0 4.0,0 M581.2,49.0 a2.1,2.1 0 1 0 -4.1,0 a2.1,2.1 0 1 0 4.1,0 M580.3,43.8 a2.3,2.3 0 1 0 -4.7,0 a2.3,2.3 0 1 0 4.7,0 M567.3,44.1 a1.3,1.3 0 1 0 -2.6,0 a1.3,1.3 0 1 0 2.6,0 M616.2,80.6 a1.6,1.6 0 1 0 -3.3,0 a1.6,1.6 0 1 0 3.3,0 M596.2,90.7 a2.5,2.5 0 1 0 -5.0,0 a2.5,2.5 0 1 0 5.0,0 M631.7,96.2 a1.6,1.6 0 1 0 -3.2,0 a1.6,1.6 0 1 0 3.2,0 M580.5,108.1 a1.5,1.5 0 1 0 -2.9,0 a1.5,1.5 0 1 0 2.9,0 M631.2,96.0 a1.5,1.5 0 1 0 -3.0,0 a1.5,1.5 0 1 0 3.0,0 M551.3,136.0 a2.3,2.3 0 1 0 -4.7,0 a2.3,2.3 0 1 0 4.7,0 M652.7,100.3 a2.1,2.1 0 1 0 -4.3,0 a2.1,2.1 0 1 0 4.3,0 M641.4,82.9 a2.3,2.3 0 1 0 -4.5,0 a2.3,2.3 0 1 0 4.5,0 M610.9,71.1 a1.5,1.5 0 1 0 -3.0,0 a1.5,1.5 0 1 0 3.0,0 M566.1,137.6 a1.6,1.6 0 1 0 -3.2,0 a1.6,1.6 0 1 0 3.2,0 M631.1,46.9 a1.5,1.5 0 1 0 -2.9,0 a1.5,1.5 0 1 0 2.9,0 M634.2,143.8 a2.1,2.1 0 1 0 -4.3,0 a2.1,2.1 0 1 0 4.3,0 M629.1,139.8 a2.1,2.1 0 1 0 -4.3,0 a2.1,2.1 0 1 0 4.3,0 M548.9,100.6 a2.3,2.3 0 1 0 -4.7,0 a2.3,2.3 0 1 0 4.7,0 M560.0,147.6 a1.3,1.3 0 1 0 -2.7,0 a1.3,1.3 0 1 0 2.7,0 M677.6,100.9 a2.0,2.0 0 1 0 -4.1,0 a2.0,2.0 0 1 0 4.1,0 M586.3,84.5 a1.8,1.8 0 1 0 -3.5,0 a1.8,1.8 0 1 0 3.5,0 M634.2,147.9 a2.1,2.1 0 1 0 -4.2,0 a2.1,2.1 0 1 0 4.2,0 M538.6,108.5 a1.9,1.9 0 1 0 -3.9,0 a1.9,1.9 0 1 0 3.9,0 M618.8,23.9 a2.2,2.2 0 1 0 -4.4,0 a2.2,2.2 0 1 0 4.4,0 M630.3,23.3 a2.3,2.3 0 1 0 -4.6,0 a2.3,2.3 0 1 0 4.6,0 M647.1,48.8 a2.2,2.2 0 1 0 -4.4,0 a2.2,2.2 0 1 0 4.4,0 M666.0,87.2 a1.3,1.3 0 1 0 -2.7,0 a1.3,1.3 0 1 0 2.7,0 M629.9,33.3 a2.3,2.3 0 1 0 -4.6,0 a2.3,2.3 0 1 0 4.6,0 M549.8,112.9 a1.8,1.8 0 1 0 -3.6,0 a1.8,1.8 0 1 0 3.6,0 M626.6,141.0 a2.5,2.5 0 1 0 -5.0,0 a2.5,2.5 0 1 0 5.0,0" stroke-width="1.2"/></g></g>
<g clip-path="url(#pc)" filter="url(#bl2)"><ellipse cx="613.5" cy="41.400000000000006" rx="7" ry="3.5" fill="#f0d6d0" opacity="0.75"/><ellipse cx="551.5" cy="51.400000000000006" rx="4" ry="6" fill="#e8d0c8" opacity="0.6"/><path d="M573.5,151.4 Q579.5,133.4 591.5,121.4" stroke="#e8d6d0" stroke-width="1.8" fill="none" opacity="0.6"/></g>
<defs><linearGradient id="rimg" x1="0" y1="0" x2="0" y2="1"><stop offset="0" stop-color="#b5aaa8" stop-opacity="1"/><stop offset="0.2" stop-color="#b5aaa8" stop-opacity="0"/><stop offset="0.78" stop-color="#c6bdb0" stop-opacity="0"/><stop offset="1" stop-color="#c6bdb0" stop-opacity="1"/></linearGradient></defs>
<circle cx="603.5" cy="91.4" r="69.8" fill="none" stroke="url(#rimg)" stroke-width="2.8"/>
<circle cx="603.5" cy="91.4" r="70.8" fill="none" stroke="#6a3026" stroke-width="0.8" opacity="0.6"/>
<rect x="134.2" y="233.5" width="20" height="9.2" fill="#000" stroke="#333" stroke-width="1.2"/>
<rect x="228.6" y="233.5" width="20.6" height="9.2" fill="#d9d9d9" stroke="#333" stroke-width="1.2"/>
<rect x="335.5" y="233.5" width="20.8" height="9.2" fill="#a6a6a6" stroke="#333" stroke-width="1.2"/>
<rect x="451" y="233.5" width="20.8" height="9.2" fill="#7f7f7f" stroke="#333" stroke-width="1.2"/>
<text x="165.91" y="243.00" font-size="16.4" font-weight="normal" fill="#000" textLength="42.41" lengthAdjust="spacingAndGlyphs">Day 0</text>
<text x="261.69" y="244.00" font-size="16.4" font-weight="normal" fill="#000" textLength="53.13" lengthAdjust="spacingAndGlyphs">1y, 4°C</text>
<text x="367.99" y="244.00" font-size="16.4" font-weight="normal" fill="#000" textLength="62.55" lengthAdjust="spacingAndGlyphs">1y, 22°C</text>
<text x="483.59" y="244.00" font-size="16.4" font-weight="normal" fill="#000" textLength="62.45" lengthAdjust="spacingAndGlyphs">1y, 37°C</text>
<line x1="44.1" y1="318.9" x2="301.5" y2="318.9" stroke="#000" stroke-width="1.6" stroke-dasharray="1.6 3.6"/>
<line x1="51.20" y1="448.47" x2="51.20" y2="444.25" stroke="#000" stroke-width="1.8"/>
<line x1="48.90" y1="444.25" x2="53.50" y2="444.25" stroke="#000" stroke-width="1.7"/>
<rect x="47.00" y="448.47" width="8.4" height="8.93" fill="#000" stroke="#383838" stroke-width="1"/>
<line x1="65.15" y1="435.67" x2="65.15" y2="426.26" stroke="#000" stroke-width="1.8"/>
<line x1="62.85" y1="426.26" x2="67.45" y2="426.26" stroke="#000" stroke-width="1.7"/>
<rect x="60.95" y="435.67" width="8.4" height="21.73" fill="#d9d9d9" stroke="#383838" stroke-width="1"/>
<line x1="79.10" y1="431.87" x2="79.10" y2="413.11" stroke="#000" stroke-width="1.8"/>
<line x1="76.80" y1="413.11" x2="81.40" y2="413.11" stroke="#000" stroke-width="1.7"/>
<rect x="74.90" y="431.87" width="8.4" height="25.53" fill="#a6a6a6" stroke="#383838" stroke-width="1"/>
<line x1="93.05" y1="435.33" x2="93.05" y2="433.53" stroke="#000" stroke-width="1.8"/>
<line x1="90.75" y1="433.53" x2="95.35" y2="433.53" stroke="#000" stroke-width="1.7"/>
<rect x="88.85" y="435.33" width="8.4" height="22.07" fill="#7f7f7f" stroke="#383838" stroke-width="1"/>
<line x1="116.20" y1="431.17" x2="116.20" y2="427.30" stroke="#000" stroke-width="1.8"/>
<line x1="113.90" y1="427.30" x2="118.50" y2="427.30" stroke="#000" stroke-width="1.7"/>
<rect x="112.00" y="431.17" width="8.4" height="26.23" fill="#000" stroke="#383838" stroke-width="1"/>
<rect x="125.95" y="425.64" width="8.4" height="31.76" fill="#d9d9d9" stroke="#383838" stroke-width="1"/>
<line x1="144.10" y1="412.84" x2="144.10" y2="402.73" stroke="#000" stroke-width="1.8"/>
<line x1="141.80" y1="402.73" x2="146.40" y2="402.73" stroke="#000" stroke-width="1.7"/>
<rect x="139.90" y="412.84" width="8.4" height="44.56" fill="#a6a6a6" stroke="#383838" stroke-width="1"/>
<line x1="158.05" y1="428.41" x2="158.05" y2="418.30" stroke="#000" stroke-width="1.8"/>
<line x1="155.75" y1="418.30" x2="160.35" y2="418.30" stroke="#000" stroke-width="1.7"/>
<rect x="153.85" y="428.41" width="8.4" height="28.99" fill="#7f7f7f" stroke="#383838" stroke-width="1"/>
<line x1="181.20" y1="406.26" x2="181.20" y2="400.31" stroke="#000" stroke-width="1.8"/>
<line x1="178.90" y1="400.31" x2="183.50" y2="400.31" stroke="#000" stroke-width="1.7"/>
<rect x="177.00" y="406.26" width="8.4" height="51.14" fill="#000" stroke="#383838" stroke-width="1"/>
<line x1="195.15" y1="399.69" x2="195.15" y2="387.85" stroke="#000" stroke-width="1.8"/>
<line x1="192.85" y1="387.85" x2="197.45" y2="387.85" stroke="#000" stroke-width="1.7"/>
<rect x="190.95" y="399.69" width="8.4" height="57.71" fill="#d9d9d9" stroke="#383838" stroke-width="1"/>
<line x1="209.10" y1="390.00" x2="209.10" y2="384.74" stroke="#000" stroke-width="1.8"/>
<line x1="206.80" y1="384.74" x2="211.40" y2="384.74" stroke="#000" stroke-width="1.7"/>
<rect x="204.90" y="390.00" width="8.4" height="67.40" fill="#a6a6a6" stroke="#383838" stroke-width="1"/>
<line x1="223.05" y1="406.26" x2="223.05" y2="401.00" stroke="#000" stroke-width="1.8"/>
<line x1="220.75" y1="401.00" x2="225.35" y2="401.00" stroke="#000" stroke-width="1.7"/>
<rect x="218.85" y="406.26" width="8.4" height="51.14" fill="#7f7f7f" stroke="#383838" stroke-width="1"/>
<line x1="246.20" y1="386.19" x2="246.20" y2="369.52" stroke="#000" stroke-width="1.8"/>
<line x1="243.90" y1="369.52" x2="248.50" y2="369.52" stroke="#000" stroke-width="1.7"/>
<rect x="242.00" y="386.19" width="8.4" height="71.21" fill="#000" stroke="#383838" stroke-width="1"/>
<line x1="260.15" y1="390.35" x2="260.15" y2="389.24" stroke="#000" stroke-width="1.8"/>
<line x1="257.85" y1="389.24" x2="262.45" y2="389.24" stroke="#000" stroke-width="1.7"/>
<rect x="255.95" y="390.35" width="8.4" height="67.05" fill="#d9d9d9" stroke="#383838" stroke-width="1"/>
<line x1="274.10" y1="395.54" x2="274.10" y2="379.90" stroke="#000" stroke-width="1.8"/>
<line x1="271.80" y1="379.90" x2="276.40" y2="379.90" stroke="#000" stroke-width="1.7"/>
<rect x="269.90" y="395.54" width="8.4" height="61.86" fill="#a6a6a6" stroke="#383838" stroke-width="1"/>
<line x1="288.05" y1="392.42" x2="288.05" y2="388.55" stroke="#000" stroke-width="1.8"/>
<line x1="285.75" y1="388.55" x2="290.35" y2="388.55" stroke="#000" stroke-width="1.7"/>
<rect x="283.85" y="392.42" width="8.4" height="64.98" fill="#7f7f7f" stroke="#383838" stroke-width="1"/>
<line x1="40" y1="283.54999999999995" x2="40" y2="458.25" stroke="#000" stroke-width="1.8"/>
<line x1="35.1" y1="457.4" x2="301" y2="457.4" stroke="#000" stroke-width="1.8"/>
<line x1="35.1" y1="457.40" x2="40" y2="457.40" stroke="#000" stroke-width="1.8"/>
<text x="32.8" y="462.00" font-size="12.6" font-weight="bold" text-anchor="end">0</text>
<line x1="35.1" y1="422.80" x2="40" y2="422.80" stroke="#000" stroke-width="1.8"/>
<text x="32.8" y="427.40" font-size="12.6" font-weight="bold" text-anchor="end">1</text>
<line x1="35.1" y1="388.20" x2="40" y2="388.20" stroke="#000" stroke-width="1.8"/>
<text x="32.8" y="392.80" font-size="12.6" font-weight="bold" text-anchor="end">2</text>
<line x1="35.1" y1="353.60" x2="40" y2="353.60" stroke="#000" stroke-width="1.8"/>
<text x="32.8" y="358.20" font-size="12.6" font-weight="bold" text-anchor="end">3</text>
<line x1="35.1" y1="319.00" x2="40" y2="319.00" stroke="#000" stroke-width="1.8"/>
<text x="32.8" y="323.60" font-size="12.6" font-weight="bold" text-anchor="end">4</text>
<line x1="35.1" y1="284.40" x2="40" y2="284.40" stroke="#000" stroke-width="1.8"/>
<text x="32.8" y="289.00" font-size="12.6" font-weight="bold" text-anchor="end">5</text>
<line x1="72.20" y1="457.4" x2="72.20" y2="462.0" stroke="#000" stroke-width="1.8"/>
<text x="72.20" y="475.6" font-size="12" font-weight="bold" text-anchor="middle">10</text>
<line x1="137.20" y1="457.4" x2="137.20" y2="462.0" stroke="#000" stroke-width="1.8"/>
<text x="137.20" y="475.6" font-size="12" font-weight="bold" text-anchor="middle">20</text>
<line x1="202.20" y1="457.4" x2="202.20" y2="462.0" stroke="#000" stroke-width="1.8"/>
<text x="202.20" y="475.6" font-size="12" font-weight="bold" text-anchor="middle">30</text>
<line x1="267.20" y1="457.4" x2="267.20" y2="462.0" stroke="#000" stroke-width="1.8"/>
<text x="267.20" y="475.6" font-size="12" font-weight="bold" text-anchor="middle">60</text>
<line x1="411.5" y1="318.9" x2="668.9" y2="318.9" stroke="#000" stroke-width="1.6" stroke-dasharray="1.6 3.6"/>
<line x1="418.60" y1="423.56" x2="418.60" y2="411.04" stroke="#000" stroke-width="1.8"/>
<line x1="416.30" y1="411.04" x2="420.90" y2="411.04" stroke="#000" stroke-width="1.7"/>
<rect x="414.40" y="423.56" width="8.4" height="33.84" fill="#000" stroke="#383838" stroke-width="1"/>
<line x1="432.55" y1="367.86" x2="432.55" y2="362.94" stroke="#000" stroke-width="1.8"/>
<line x1="430.25" y1="362.94" x2="434.85" y2="362.94" stroke="#000" stroke-width="1.7"/>
<rect x="428.35" y="367.86" width="8.4" height="89.54" fill="#d9d9d9" stroke="#383838" stroke-width="1"/>
<line x1="446.50" y1="358.17" x2="446.50" y2="354.64" stroke="#000" stroke-width="1.8"/>
<line x1="444.20" y1="354.64" x2="448.80" y2="354.64" stroke="#000" stroke-width="1.7"/>
<rect x="442.30" y="358.17" width="8.4" height="99.23" fill="#a6a6a6" stroke="#383838" stroke-width="1"/>
<line x1="460.45" y1="367.86" x2="460.45" y2="343.22" stroke="#000" stroke-width="1.8"/>
<line x1="458.15" y1="343.22" x2="462.75" y2="343.22" stroke="#000" stroke-width="1.7"/>
<rect x="456.25" y="367.86" width="8.4" height="89.54" fill="#7f7f7f" stroke="#383838" stroke-width="1"/>
<line x1="483.60" y1="358.86" x2="483.60" y2="351.87" stroke="#000" stroke-width="1.8"/>
<line x1="481.30" y1="351.87" x2="485.90" y2="351.87" stroke="#000" stroke-width="1.7"/>
<rect x="479.40" y="358.86" width="8.4" height="98.54" fill="#000" stroke="#383838" stroke-width="1"/>
<line x1="497.55" y1="348.48" x2="497.55" y2="346.33" stroke="#000" stroke-width="1.8"/>
<line x1="495.25" y1="346.33" x2="499.85" y2="346.33" stroke="#000" stroke-width="1.7"/>
<rect x="493.35" y="348.48" width="8.4" height="108.92" fill="#d9d9d9" stroke="#383838" stroke-width="1"/>
<line x1="511.50" y1="345.02" x2="511.50" y2="333.53" stroke="#000" stroke-width="1.8"/>
<line x1="509.20" y1="333.53" x2="513.80" y2="333.53" stroke="#000" stroke-width="1.7"/>
<rect x="507.30" y="345.02" width="8.4" height="112.38" fill="#a6a6a6" stroke="#383838" stroke-width="1"/>
<line x1="525.45" y1="342.94" x2="525.45" y2="335.61" stroke="#000" stroke-width="1.8"/>
<line x1="523.15" y1="335.61" x2="527.75" y2="335.61" stroke="#000" stroke-width="1.7"/>
<rect x="521.25" y="342.94" width="8.4" height="114.46" fill="#7f7f7f" stroke="#383838" stroke-width="1"/>
<line x1="548.60" y1="348.48" x2="548.60" y2="319.00" stroke="#000" stroke-width="1.8"/>
<line x1="546.30" y1="319.00" x2="550.90" y2="319.00" stroke="#000" stroke-width="1.7"/>
<rect x="544.40" y="348.48" width="8.4" height="108.92" fill="#000" stroke="#383838" stroke-width="1"/>
<line x1="562.55" y1="355.40" x2="562.55" y2="348.41" stroke="#000" stroke-width="1.8"/>
<line x1="560.25" y1="348.41" x2="564.85" y2="348.41" stroke="#000" stroke-width="1.7"/>
<rect x="558.35" y="355.40" width="8.4" height="102.00" fill="#d9d9d9" stroke="#383838" stroke-width="1"/>
<line x1="576.50" y1="333.26" x2="576.50" y2="331.11" stroke="#000" stroke-width="1.8"/>
<line x1="574.20" y1="331.11" x2="578.80" y2="331.11" stroke="#000" stroke-width="1.7"/>
<rect x="572.30" y="333.26" width="8.4" height="124.14" fill="#a6a6a6" stroke="#383838" stroke-width="1"/>
<line x1="590.45" y1="339.14" x2="590.45" y2="327.65" stroke="#000" stroke-width="1.8"/>
<line x1="588.15" y1="327.65" x2="592.75" y2="327.65" stroke="#000" stroke-width="1.7"/>
<rect x="586.25" y="339.14" width="8.4" height="118.26" fill="#7f7f7f" stroke="#383838" stroke-width="1"/>
<line x1="613.60" y1="334.64" x2="613.60" y2="322.11" stroke="#000" stroke-width="1.8"/>
<line x1="611.30" y1="322.11" x2="615.90" y2="322.11" stroke="#000" stroke-width="1.7"/>
<rect x="609.40" y="334.64" width="8.4" height="122.76" fill="#000" stroke="#383838" stroke-width="1"/>
<line x1="627.55" y1="326.34" x2="627.55" y2="324.19" stroke="#000" stroke-width="1.8"/>
<line x1="625.25" y1="324.19" x2="629.85" y2="324.19" stroke="#000" stroke-width="1.7"/>
<rect x="623.35" y="326.34" width="8.4" height="131.06" fill="#d9d9d9" stroke="#383838" stroke-width="1"/>
<line x1="641.50" y1="324.61" x2="641.50" y2="321.42" stroke="#000" stroke-width="1.8"/>
<line x1="639.20" y1="321.42" x2="643.80" y2="321.42" stroke="#000" stroke-width="1.7"/>
<rect x="637.30" y="324.61" width="8.4" height="132.79" fill="#a6a6a6" stroke="#383838" stroke-width="1"/>
<line x1="655.45" y1="322.88" x2="655.45" y2="321.42" stroke="#000" stroke-width="1.8"/>
<line x1="653.15" y1="321.42" x2="657.75" y2="321.42" stroke="#000" stroke-width="1.7"/>
<rect x="651.25" y="322.88" width="8.4" height="134.52" fill="#7f7f7f" stroke="#383838" stroke-width="1"/>
<line x1="407.4" y1="283.54999999999995" x2="407.4" y2="458.25" stroke="#000" stroke-width="1.8"/>
<line x1="402.5" y1="457.4" x2="668.4" y2="457.4" stroke="#000" stroke-width="1.8"/>
<line x1="402.5" y1="457.40" x2="407.4" y2="457.40" stroke="#000" stroke-width="1.8"/>
<text x="400.2" y="462.00" font-size="12.6" font-weight="bold" text-anchor="end">0</text>
<line x1="402.5" y1="422.80" x2="407.4" y2="422.80" stroke="#000" stroke-width="1.8"/>
<text x="400.2" y="427.40" font-size="12.6" font-weight="bold" text-anchor="end">1</text>
<line x1="402.5" y1="388.20" x2="407.4" y2="388.20" stroke="#000" stroke-width="1.8"/>
<text x="400.2" y="392.80" font-size="12.6" font-weight="bold" text-anchor="end">2</text>
<line x1="402.5" y1="353.60" x2="407.4" y2="353.60" stroke="#000" stroke-width="1.8"/>
<text x="400.2" y="358.20" font-size="12.6" font-weight="bold" text-anchor="end">3</text>
<line x1="402.5" y1="319.00" x2="407.4" y2="319.00" stroke="#000" stroke-width="1.8"/>
<text x="400.2" y="323.60" font-size="12.6" font-weight="bold" text-anchor="end">4</text>
<line x1="402.5" y1="284.40" x2="407.4" y2="284.40" stroke="#000" stroke-width="1.8"/>
<text x="400.2" y="289.00" font-size="12.6" font-weight="bold" text-anchor="end">5</text>
<line x1="439.60" y1="457.4" x2="439.60" y2="462.0" stroke="#000" stroke-width="1.8"/>
<text x="439.60" y="475.6" font-size="12" font-weight="bold" text-anchor="middle">10</text>
<line x1="504.60" y1="457.4" x2="504.60" y2="462.0" stroke="#000" stroke-width="1.8"/>
<text x="504.60" y="475.6" font-size="12" font-weight="bold" text-anchor="middle">20</text>
<line x1="569.60" y1="457.4" x2="569.60" y2="462.0" stroke="#000" stroke-width="1.8"/>
<text x="569.60" y="475.6" font-size="12" font-weight="bold" text-anchor="middle">30</text>
<line x1="634.60" y1="457.4" x2="634.60" y2="462.0" stroke="#000" stroke-width="1.8"/>
<text x="634.60" y="475.6" font-size="12" font-weight="bold" text-anchor="middle">60</text>
<text x="80.50" y="275.50" font-size="16.4" font-weight="bold" fill="#000" textLength="179.52" lengthAdjust="spacingAndGlyphs">Thick Film Resolubility</text>
<text x="452.40" y="275.40" font-size="16.4" font-weight="bold" fill="#000" textLength="170.5" lengthAdjust="spacingAndGlyphs">Thin Film Resolubility</text>
<text transform="translate(17.30 411.04) rotate(-90)" font-size="14.2" font-weight="bold" fill="#000" textLength="81.35" lengthAdjust="spacingAndGlyphs">Silk (% w/v)</text>
<text transform="translate(384.40 411.04) rotate(-90)" font-size="14.2" font-weight="bold" fill="#000" textLength="81.35" lengthAdjust="spacingAndGlyphs">Silk (% w/v)</text>
<text x="103.10" y="498.60" font-size="14.2" font-weight="bold" fill="#000" textLength="132.49" lengthAdjust="spacingAndGlyphs">Extraction Time (m)</text>
<text x="470.30" y="498.80" font-size="14.2" font-weight="bold" fill="#000" textLength="132.39" lengthAdjust="spacingAndGlyphs">Extraction Time (m)</text>
<text x="221.98" y="314.45" font-size="9" font-weight="normal" fill="#111" textLength="74.77" lengthAdjust="spacingAndGlyphs">Maximum Loading</text>
<rect x="182.6" y="556.8" width="24" height="11" fill="#fff" stroke="#333" stroke-width="1.3"/>
<rect x="264.6" y="556.8" width="23.4" height="11" fill="#a0a0a0" stroke="#333" stroke-width="1.3"/>
<rect x="346" y="556.8" width="24.2" height="11" fill="#666" stroke="#333" stroke-width="1.3"/>
<rect x="427.8" y="556.8" width="24.2" height="11" fill="#000" stroke="#333" stroke-width="1.3"/>
<text x="220.01" y="567.85" font-size="17.8" font-weight="normal" fill="#000" textLength="34.17" lengthAdjust="spacingAndGlyphs">10m</text>
<text x="300.79" y="567.85" font-size="17.8" font-weight="normal" fill="#000" textLength="35.01" lengthAdjust="spacingAndGlyphs">20m</text>
<text x="383.42" y="567.85" font-size="17.8" font-weight="normal" fill="#000" textLength="33.76" lengthAdjust="spacingAndGlyphs">30m</text>
<text x="464.59" y="567.85" font-size="17.8" font-weight="normal" fill="#000" textLength="35.01" lengthAdjust="spacingAndGlyphs">60m</text>
<line x1="58.1" y1="684.60" x2="308.5" y2="684.60" stroke="#111" stroke-width="1.7" stroke-dasharray="1.7 3.36"/>
<line x1="81.35" y1="759.33" x2="81.35" y2="756.30" stroke="#000" stroke-width="2.4"/>
<line x1="77.35" y1="756.30" x2="85.35" y2="756.30" stroke="#000" stroke-width="2.3"/>
<rect x="73.60" y="759.33" width="15.50" height="9.07" fill="#fff" stroke="#222" stroke-width="1.2"/>
<line x1="105.35" y1="764.28" x2="105.35" y2="763.11" stroke="#000" stroke-width="2.4"/>
<line x1="101.35" y1="763.11" x2="109.35" y2="763.11" stroke="#000" stroke-width="2.3"/>
<rect x="97.60" y="764.28" width="15.50" height="4.12" fill="#a0a0a0" stroke="#222" stroke-width="1.2"/>
<line x1="129.25" y1="734.80" x2="129.25" y2="728.58" stroke="#000" stroke-width="2.4"/>
<line x1="125.25" y1="728.58" x2="133.25" y2="728.58" stroke="#000" stroke-width="2.3"/>
<rect x="121.50" y="734.80" width="15.50" height="33.60" fill="#666666" stroke="#222" stroke-width="1.2"/>
<line x1="152.75" y1="699.52" x2="152.75" y2="694.14" stroke="#000" stroke-width="2.4"/>
<line x1="148.75" y1="694.14" x2="156.75" y2="694.14" stroke="#000" stroke-width="2.3"/>
<rect x="145.00" y="699.52" width="15.50" height="68.88" fill="#000" stroke="#222" stroke-width="1.2"/>
<line x1="208.65" y1="692.88" x2="208.65" y2="666.84" stroke="#000" stroke-width="2.4"/>
<line x1="204.65" y1="666.84" x2="212.65" y2="666.84" stroke="#000" stroke-width="2.3"/>
<rect x="200.90" y="692.88" width="15.50" height="75.52" fill="#fff" stroke="#222" stroke-width="1.2"/>
<line x1="232.55" y1="701.28" x2="232.55" y2="698.34" stroke="#000" stroke-width="2.4"/>
<line x1="228.55" y1="698.34" x2="236.55" y2="698.34" stroke="#000" stroke-width="2.3"/>
<rect x="224.80" y="701.28" width="15.50" height="67.12" fill="#a0a0a0" stroke="#222" stroke-width="1.2"/>
<line x1="256.05" y1="676.59" x2="256.05" y2="634.76" stroke="#000" stroke-width="2.4"/>
<line x1="252.05" y1="634.76" x2="260.05" y2="634.76" stroke="#000" stroke-width="2.3"/>
<rect x="248.30" y="676.59" width="15.50" height="91.81" fill="#666666" stroke="#222" stroke-width="1.2"/>
<line x1="279.75" y1="680.28" x2="279.75" y2="673.65" stroke="#000" stroke-width="2.4"/>
<line x1="275.75" y1="673.65" x2="283.75" y2="673.65" stroke="#000" stroke-width="2.3"/>
<rect x="272.00" y="680.28" width="15.50" height="88.12" fill="#000" stroke="#222" stroke-width="1.2"/>
<line x1="70.10" y1="656.1" x2="156.90" y2="656.1" stroke="#000" stroke-width="2.75"/>
<line x1="104.70" y1="662.9" x2="156.90" y2="662.9" stroke="#000" stroke-width="2.75"/>
<line x1="54" y1="599.40" x2="54" y2="769.4" stroke="#000" stroke-width="1.9"/>
<line x1="54" y1="768.4" x2="308" y2="768.4" stroke="#000" stroke-width="1.9"/>
<line x1="49.5" y1="768.40" x2="54" y2="768.40" stroke="#000" stroke-width="1.9"/>
<text x="47.2" y="772.70" font-size="12" font-weight="bold" text-anchor="end">0</text>
<line x1="49.5" y1="726.40" x2="54" y2="726.40" stroke="#000" stroke-width="1.9"/>
<text x="47.2" y="730.70" font-size="12" font-weight="bold" text-anchor="end">50</text>
<line x1="49.5" y1="684.40" x2="54" y2="684.40" stroke="#000" stroke-width="1.9"/>
<text x="47.2" y="688.70" font-size="12" font-weight="bold" text-anchor="end">100</text>
<line x1="49.5" y1="642.40" x2="54" y2="642.40" stroke="#000" stroke-width="1.9"/>
<text x="47.2" y="646.70" font-size="12" font-weight="bold" text-anchor="end">150</text>
<line x1="49.5" y1="600.40" x2="54" y2="600.40" stroke="#000" stroke-width="1.9"/>
<text x="47.2" y="604.70" font-size="12" font-weight="bold" text-anchor="end">200</text>
<line x1="117.10" y1="768.4" x2="117.10" y2="772.9" stroke="#000" stroke-width="1.9"/>
<line x1="244.00" y1="768.4" x2="244.00" y2="772.9" stroke="#000" stroke-width="1.9"/>
<line x1="417.3" y1="684.60" x2="667.7" y2="684.60" stroke="#111" stroke-width="1.7" stroke-dasharray="1.7 3.36"/>
<line x1="440.65" y1="756.81" x2="440.65" y2="751.35" stroke="#000" stroke-width="2.4"/>
<line x1="436.65" y1="751.35" x2="444.65" y2="751.35" stroke="#000" stroke-width="2.3"/>
<rect x="432.90" y="756.81" width="15.50" height="11.59" fill="#fff" stroke="#222" stroke-width="1.2"/>
<line x1="464.55" y1="756.30" x2="464.55" y2="751.35" stroke="#000" stroke-width="2.4"/>
<line x1="460.55" y1="751.35" x2="468.55" y2="751.35" stroke="#000" stroke-width="2.3"/>
<rect x="456.80" y="756.30" width="15.50" height="12.10" fill="#a0a0a0" stroke="#222" stroke-width="1.2"/>
<line x1="488.05" y1="743.62" x2="488.05" y2="737.91" stroke="#000" stroke-width="2.4"/>
<line x1="484.05" y1="737.91" x2="492.05" y2="737.91" stroke="#000" stroke-width="2.3"/>
<rect x="480.30" y="743.62" width="15.50" height="24.78" fill="#666666" stroke="#222" stroke-width="1.2"/>
<line x1="511.55" y1="695.74" x2="511.55" y2="679.02" stroke="#000" stroke-width="2.4"/>
<line x1="507.55" y1="679.02" x2="515.55" y2="679.02" stroke="#000" stroke-width="2.3"/>
<rect x="503.80" y="695.74" width="15.50" height="72.66" fill="#000" stroke="#222" stroke-width="1.2"/>
<line x1="567.45" y1="713.13" x2="567.45" y2="705.90" stroke="#000" stroke-width="2.4"/>
<line x1="563.45" y1="705.90" x2="571.45" y2="705.90" stroke="#000" stroke-width="2.3"/>
<rect x="559.70" y="713.13" width="15.50" height="55.27" fill="#fff" stroke="#222" stroke-width="1.2"/>
<line x1="590.95" y1="703.80" x2="590.95" y2="690.78" stroke="#000" stroke-width="2.4"/>
<line x1="586.95" y1="690.78" x2="594.95" y2="690.78" stroke="#000" stroke-width="2.3"/>
<rect x="583.20" y="703.80" width="15.50" height="64.60" fill="#a0a0a0" stroke="#222" stroke-width="1.2"/>
<line x1="614.35" y1="702.04" x2="614.35" y2="692.04" stroke="#000" stroke-width="2.4"/>
<line x1="610.35" y1="692.04" x2="618.35" y2="692.04" stroke="#000" stroke-width="2.3"/>
<rect x="606.60" y="702.04" width="15.50" height="66.36" fill="#666666" stroke="#222" stroke-width="1.2"/>
<line x1="638.35" y1="684.90" x2="638.35" y2="682.38" stroke="#000" stroke-width="2.4"/>
<line x1="634.35" y1="682.38" x2="642.35" y2="682.38" stroke="#000" stroke-width="2.3"/>
<rect x="630.60" y="684.90" width="15.50" height="83.50" fill="#000" stroke="#222" stroke-width="1.2"/>
<line x1="424.80" y1="651.1" x2="510.80" y2="651.1" stroke="#000" stroke-width="2.75"/>
<line x1="460.40" y1="658.7" x2="510.80" y2="658.7" stroke="#000" stroke-width="2.75"/>
<line x1="483.60" y1="666.3" x2="510.80" y2="666.3" stroke="#000" stroke-width="2.75"/>
<line x1="555.40" y1="651.9" x2="641.90" y2="651.9" stroke="#000" stroke-width="2.75"/>
<line x1="413.2" y1="599.40" x2="413.2" y2="769.4" stroke="#000" stroke-width="1.9"/>
<line x1="413.2" y1="768.4" x2="667.2" y2="768.4" stroke="#000" stroke-width="1.9"/>
<line x1="408.7" y1="768.40" x2="413.2" y2="768.40" stroke="#000" stroke-width="1.9"/>
<text x="406.4" y="772.70" font-size="12" font-weight="bold" text-anchor="end">0</text>
<line x1="408.7" y1="726.40" x2="413.2" y2="726.40" stroke="#000" stroke-width="1.9"/>
<text x="406.4" y="730.70" font-size="12" font-weight="bold" text-anchor="end">50</text>
<line x1="408.7" y1="684.40" x2="413.2" y2="684.40" stroke="#000" stroke-width="1.9"/>
<text x="406.4" y="688.70" font-size="12" font-weight="bold" text-anchor="end">100</text>
<line x1="408.7" y1="642.40" x2="413.2" y2="642.40" stroke="#000" stroke-width="1.9"/>
<text x="406.4" y="646.70" font-size="12" font-weight="bold" text-anchor="end">150</text>
<line x1="408.7" y1="600.40" x2="413.2" y2="600.40" stroke="#000" stroke-width="1.9"/>
<text x="406.4" y="604.70" font-size="12" font-weight="bold" text-anchor="end">200</text>
<line x1="476.30" y1="768.4" x2="476.30" y2="772.9" stroke="#000" stroke-width="1.9"/>
<line x1="603.20" y1="768.4" x2="603.20" y2="772.9" stroke="#000" stroke-width="1.9"/>
<text x="101.40" y="786.80" font-size="12.3" font-weight="bold" fill="#000" textLength="32.43" lengthAdjust="spacingAndGlyphs">Thick</text>
<text x="231.40" y="786.80" font-size="12.3" font-weight="bold" fill="#000" textLength="26.16" lengthAdjust="spacingAndGlyphs">Thin</text>
<text x="460.40" y="786.80" font-size="12.3" font-weight="bold" fill="#000" textLength="31.32" lengthAdjust="spacingAndGlyphs">Thick</text>
<text x="589.70" y="786.80" font-size="12.3" font-weight="bold" fill="#000" textLength="26.68" lengthAdjust="spacingAndGlyphs">Thin</text>
<text transform="translate(17.25 762.51) rotate(-90)" font-size="13.7" font-weight="bold" fill="#000" textLength="153.64" lengthAdjust="spacingAndGlyphs">Fibrinogen % Recovery</text>
<text transform="translate(377.25 741.30) rotate(-90)" font-size="13.7" font-weight="bold" fill="#000" textLength="112.36" lengthAdjust="spacingAndGlyphs">CRP % Recovery</text>
</svg>
</body></html>
